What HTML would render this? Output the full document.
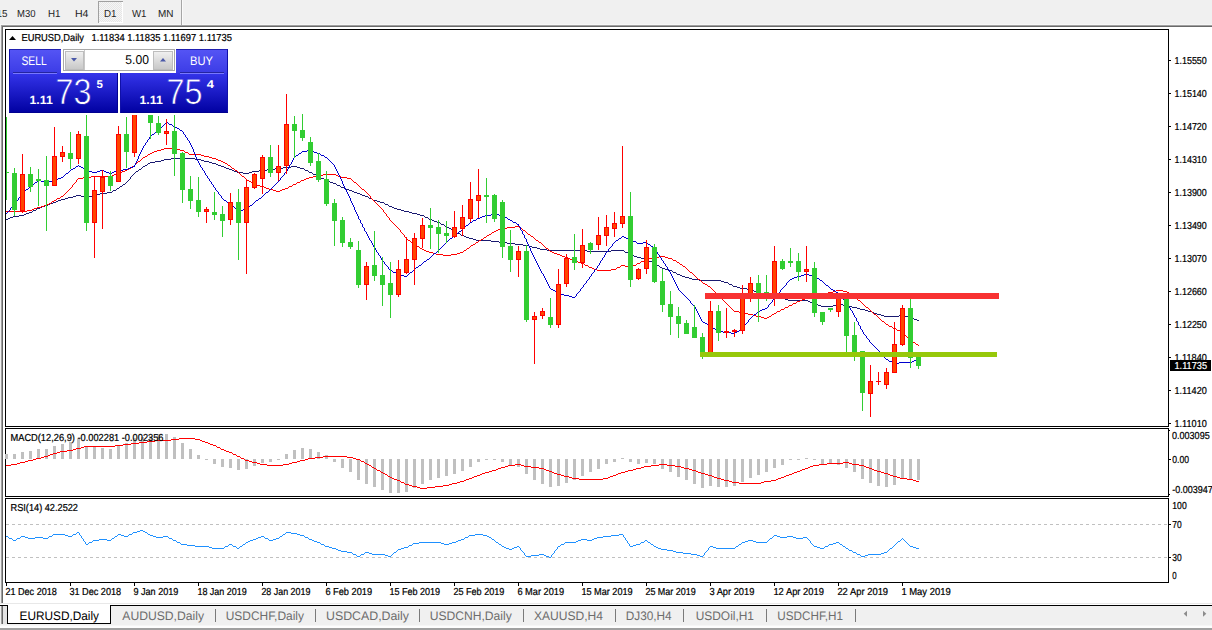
<!DOCTYPE html><html><head><meta charset="utf-8"><title>EURUSD,Daily</title>
<style>html,body{margin:0;padding:0;background:#f0f0f0;overflow:hidden}body{width:1212px;height:630px;position:relative}svg{display:block;position:absolute;left:0;top:0}text{font-family:"Liberation Sans",sans-serif;white-space:pre;text-rendering:geometricPrecision}</style></head><body>
<svg width="1212" height="630" viewBox="0 0 1212 630">
<defs>
<linearGradient id="gsell" x1="0" y1="0" x2="0" y2="1"><stop offset="0" stop-color="#5555f5"/><stop offset="1" stop-color="#3c3ce6"/></linearGradient>
<linearGradient id="gprice" gradientUnits="userSpaceOnUse" x1="0" y1="73" x2="0" y2="113"><stop offset="0" stop-color="#3434ea"/><stop offset="1" stop-color="#0000a0"/></linearGradient>
<linearGradient id="gbtn" x1="0" y1="0" x2="0" y2="1"><stop offset="0" stop-color="#f2f2f2"/><stop offset="0.5" stop-color="#dcdcdc"/><stop offset="1" stop-color="#c6c6c6"/></linearGradient>
<pattern id="chk" width="2" height="2" patternUnits="userSpaceOnUse"><rect width="2" height="2" fill="#f6f6f6"/><rect width="1" height="1" fill="#e6e6e6"/><rect x="1" y="1" width="1" height="1" fill="#e6e6e6"/></pattern>
<clipPath id="cpMain"><rect x="6" y="30" width="1162" height="396"/></clipPath>
</defs>
<rect x="0" y="0" width="1212" height="630" fill="#f0f0f0"/>
<rect x="0" y="24" width="1212" height="1" fill="#f6f6f6"/>
<rect x="98" y="1" width="25" height="22" fill="url(#chk)"/>
<rect x="98" y="1" width="25" height="1" fill="#a0a0a0"/>
<rect x="98" y="1" width="1" height="22" fill="#a0a0a0"/>
<rect x="99" y="22" width="24" height="1" fill="#ffffff"/>
<rect x="122" y="2" width="1" height="21" fill="#ffffff"/>
<rect x="181" y="0" width="1" height="25" fill="#a6a6a6"/>
<rect x="182" y="0" width="1" height="25" fill="#fafafa"/>
<text x="-3.5" y="17" font-size="10.2" fill="#1e1e1e" font-weight="normal" textLength="11" lengthAdjust="spacingAndGlyphs">15</text>
<text x="17" y="17" font-size="10.2" fill="#1e1e1e" font-weight="normal" textLength="18.5" lengthAdjust="spacingAndGlyphs">M30</text>
<text x="48" y="17" font-size="10.2" fill="#1e1e1e" font-weight="normal" textLength="12.5" lengthAdjust="spacingAndGlyphs">H1</text>
<text x="75" y="17" font-size="10.2" fill="#1e1e1e" font-weight="normal" textLength="13.5" lengthAdjust="spacingAndGlyphs">H4</text>
<text x="104" y="17" font-size="10.2" fill="#1e1e1e" font-weight="normal" textLength="12.5" lengthAdjust="spacingAndGlyphs">D1</text>
<text x="132" y="17" font-size="10.2" fill="#1e1e1e" font-weight="normal" textLength="14.5" lengthAdjust="spacingAndGlyphs">W1</text>
<text x="158" y="17" font-size="10.2" fill="#1e1e1e" font-weight="normal" textLength="15.5" lengthAdjust="spacingAndGlyphs">MN</text>
<rect x="1" y="25" width="1211" height="578" fill="#a0a0a0"/>
<rect x="2" y="26" width="1210" height="577" fill="#696969"/>
<rect x="3" y="27" width="1209" height="576" fill="#ffffff"/>
<rect x="0" y="603" width="1212" height="1" fill="#e8e8e8"/>
<rect x="5" y="29" width="1164" height="1" fill="#000"/>
<rect x="5" y="426" width="1164" height="1" fill="#000"/>
<rect x="5" y="29" width="1" height="398" fill="#000"/>
<rect x="1168" y="29" width="1" height="398" fill="#000"/>
<rect x="5" y="428" width="1164" height="1" fill="#000"/>
<rect x="5" y="496" width="1164" height="1" fill="#000"/>
<rect x="5" y="428" width="1" height="69" fill="#000"/>
<rect x="1168" y="428" width="1" height="69" fill="#000"/>
<rect x="5" y="498" width="1164" height="1" fill="#000"/>
<rect x="5" y="582" width="1164" height="1" fill="#000"/>
<rect x="5" y="498" width="1" height="85" fill="#000"/>
<rect x="1168" y="498" width="1" height="85" fill="#000"/>
<line x1="6" y1="524.5" x2="1168" y2="524.5" stroke="#c0c0c0" stroke-width="1" stroke-dasharray="3,3"/>
<line x1="6" y1="557.5" x2="1168" y2="557.5" stroke="#c0c0c0" stroke-width="1" stroke-dasharray="3,3"/>
<g clip-path="url(#cpMain)" shape-rendering="crispEdges">
<path fill="#191970" d="M171 158h24v1h-24zM164 159h7v1h-7zM195 159h6v1h-6zM161 160h3v1h-3zM201 160h3v1h-3zM155 161h6v1h-6zM204 161h5v1h-5zM150 162h5v1h-5zM209 162h3v1h-3zM148 163h2v1h-2zM212 163h4v1h-4zM147 164h1v1h-1zM216 164h2v1h-2zM145 165h2v1h-2zM218 165h3v1h-3zM143 166h2v1h-2zM221 166h3v1h-3zM291 166h6v1h-6zM142 167h1v1h-1zM224 167h2v1h-2zM283 167h8v1h-8zM297 167h3v1h-3zM141 168h1v1h-1zM226 168h3v1h-3zM275 168h8v1h-8zM300 168h4v1h-4zM139 169h2v1h-2zM229 169h3v1h-3zM267 169h8v1h-8zM304 169h1v1h-1zM138 170h1v1h-1zM232 170h2v1h-2zM259 170h8v1h-8zM305 170h3v1h-3zM136 171h2v1h-2zM234 171h3v1h-3zM252 171h7v1h-7zM308 171h1v1h-1zM135 172h1v1h-1zM237 172h6v1h-6zM249 172h3v1h-3zM309 172h3v1h-3zM134 173h1v1h-1zM243 173h6v1h-6zM312 173h1v1h-1zM133 174h1v1h-1zM313 174h3v1h-3zM132 175h1v1h-1zM316 175h1v1h-1zM131 176h1v1h-1zM317 176h3v1h-3zM130 177h1v1h-1zM320 177h1v1h-1zM130 178h1v1h-1zM321 178h3v1h-3zM129 179h1v1h-1zM324 179h1v1h-1zM128 180h1v1h-1zM325 180h3v1h-3zM127 181h1v1h-1zM328 181h2v1h-2zM126 182h1v1h-1zM330 182h3v1h-3zM125 183h1v1h-1zM333 183h3v1h-3zM123 184h2v1h-2zM336 184h1v1h-1zM122 185h1v1h-1zM337 185h3v1h-3zM120 186h2v1h-2zM340 186h1v1h-1zM119 187h1v1h-1zM341 187h3v1h-3zM117 188h2v1h-2zM344 188h2v1h-2zM116 189h1v1h-1zM346 189h3v1h-3zM113 190h3v1h-3zM349 190h3v1h-3zM112 191h1v1h-1zM352 191h2v1h-2zM107 192h5v1h-5zM354 192h3v1h-3zM100 193h7v1h-7zM357 193h3v1h-3zM97 194h3v1h-3zM360 194h2v1h-2zM76 195h5v1h-5zM92 195h5v1h-5zM362 195h3v1h-3zM73 196h3v1h-3zM81 196h3v1h-3zM89 196h3v1h-3zM365 196h3v1h-3zM68 197h5v1h-5zM84 197h5v1h-5zM368 197h1v1h-1zM65 198h3v1h-3zM369 198h3v1h-3zM61 199h4v1h-4zM372 199h1v1h-1zM58 200h3v1h-3zM373 200h4v1h-4zM56 201h2v1h-2zM377 201h3v1h-3zM53 202h3v1h-3zM380 202h4v1h-4zM50 203h3v1h-3zM384 203h1v1h-1zM48 204h2v1h-2zM385 204h3v1h-3zM45 205h3v1h-3zM388 205h1v1h-1zM42 206h3v1h-3zM389 206h3v1h-3zM40 207h2v1h-2zM392 207h2v1h-2zM37 208h3v1h-3zM394 208h3v1h-3zM36 209h1v1h-1zM397 209h4v1h-4zM33 210h3v1h-3zM401 210h3v1h-3zM32 211h1v1h-1zM404 211h5v1h-5zM29 212h3v1h-3zM409 212h3v1h-3zM26 213h3v1h-3zM412 213h5v1h-5zM24 214h2v1h-2zM417 214h3v1h-3zM19 215h5v1h-5zM420 215h4v1h-4zM13 216h6v1h-6zM424 216h1v1h-1zM10 217h3v1h-3zM425 217h3v1h-3zM8 218h2v1h-2zM428 218h1v1h-1zM6 219h2v1h-2zM429 219h3v1h-3zM432 220h2v1h-2zM434 221h3v1h-3zM437 222h3v1h-3zM440 223h1v1h-1zM441 224h3v1h-3zM444 225h1v1h-1zM445 226h2v1h-2zM447 227h2v1h-2zM449 228h2v1h-2zM451 229h1v1h-1zM452 230h2v1h-2zM454 231h2v1h-2zM456 232h1v1h-1zM457 233h3v1h-3zM460 234h1v1h-1zM461 235h3v1h-3zM464 236h2v1h-2zM466 237h3v1h-3zM469 238h4v1h-4zM473 239h3v1h-3zM476 240h15v1h-15zM491 241h8v1h-8zM499 242h8v1h-8zM507 243h8v1h-8zM515 244h8v1h-8zM523 245h6v1h-6zM529 246h3v1h-3zM532 247h5v1h-5zM537 248h3v1h-3zM540 249h7v1h-7zM547 250h40v1h-40zM611 250h13v1h-13zM587 251h24v1h-24zM624 251h1v1h-1zM625 252h3v1h-3zM628 253h1v1h-1zM629 254h3v1h-3zM632 255h2v1h-2zM634 256h3v1h-3zM637 257h4v1h-4zM641 258h3v1h-3zM644 259h4v1h-4zM648 260h1v1h-1zM649 261h3v1h-3zM652 262h1v1h-1zM653 263h2v1h-2zM655 264h2v1h-2zM657 265h2v1h-2zM659 266h1v1h-1zM660 267h2v1h-2zM662 268h3v1h-3zM665 269h3v1h-3zM668 270h4v1h-4zM672 271h1v1h-1zM673 272h3v1h-3zM676 273h1v1h-1zM677 274h3v1h-3zM680 275h2v1h-2zM682 276h3v1h-3zM685 277h4v1h-4zM689 278h3v1h-3zM692 279h7v1h-7zM699 280h22v1h-22zM721 281h3v1h-3zM724 282h4v1h-4zM728 283h1v1h-1zM729 284h3v1h-3zM732 285h1v1h-1zM733 286h4v1h-4zM737 287h3v1h-3zM740 288h7v1h-7zM747 289h5v1h-5zM752 290h2v1h-2zM754 291h3v1h-3zM757 292h4v1h-4zM761 293h3v1h-3zM764 294h5v1h-5zM769 295h3v1h-3zM772 296h5v1h-5zM777 297h3v1h-3zM780 298h5v1h-5zM785 299h3v1h-3zM788 300h20v1h-20zM808 301h2v1h-2zM810 302h3v1h-3zM813 303h3v1h-3zM816 304h2v1h-2zM836 304h7v1h-7zM818 305h3v1h-3zM833 305h3v1h-3zM843 305h6v1h-6zM821 306h12v1h-12zM849 306h3v1h-3zM852 307h5v1h-5zM857 308h3v1h-3zM860 309h5v1h-5zM865 310h3v1h-3zM868 311h4v1h-4zM872 312h2v1h-2zM874 313h3v1h-3zM877 314h4v1h-4zM881 315h3v1h-3zM899 315h6v1h-6zM884 316h15v1h-15zM905 316h3v1h-3zM908 317h4v1h-4zM912 318h2v1h-2zM914 319h3v1h-3zM917 320h2v1h-2z"/>
<path fill="#ff0000" d="M164 148h13v1h-13zM161 149h3v1h-3zM177 149h3v1h-3zM157 150h4v1h-4zM180 150h4v1h-4zM154 151h3v1h-3zM184 151h1v1h-1zM152 152h2v1h-2zM185 152h3v1h-3zM150 153h2v1h-2zM188 153h1v1h-1zM148 154h2v1h-2zM189 154h12v1h-12zM147 155h1v1h-1zM201 155h3v1h-3zM145 156h2v1h-2zM204 156h5v1h-5zM143 157h2v1h-2zM209 157h3v1h-3zM142 158h1v1h-1zM212 158h4v1h-4zM141 159h1v1h-1zM216 159h2v1h-2zM140 160h1v1h-1zM218 160h3v1h-3zM138 161h2v1h-2zM221 161h2v1h-2zM137 162h1v1h-1zM223 162h2v1h-2zM136 163h1v1h-1zM225 163h2v1h-2zM135 164h1v1h-1zM227 164h1v1h-1zM134 165h1v1h-1zM228 165h2v1h-2zM132 166h2v1h-2zM230 166h1v1h-1zM131 167h1v1h-1zM231 167h1v1h-1zM129 168h2v1h-2zM232 168h2v1h-2zM127 169h2v1h-2zM234 169h1v1h-1zM125 170h2v1h-2zM235 170h2v1h-2zM122 171h3v1h-3zM237 171h1v1h-1zM120 172h2v1h-2zM238 172h1v1h-1zM117 173h3v1h-3zM239 173h1v1h-1zM114 174h3v1h-3zM240 174h1v1h-1zM323 174h13v1h-13zM112 175h2v1h-2zM241 175h1v1h-1zM316 175h7v1h-7zM336 175h2v1h-2zM91 176h21v1h-21zM242 176h2v1h-2zM313 176h3v1h-3zM338 176h3v1h-3zM83 177h8v1h-8zM244 177h1v1h-1zM309 177h4v1h-4zM341 177h6v1h-6zM78 178h5v1h-5zM245 178h1v1h-1zM306 178h3v1h-3zM347 178h4v1h-4zM77 179h1v1h-1zM246 179h1v1h-1zM304 179h2v1h-2zM351 179h1v1h-1zM76 180h1v1h-1zM247 180h2v1h-2zM301 180h3v1h-3zM352 180h1v1h-1zM76 181h1v1h-1zM249 181h2v1h-2zM300 181h1v1h-1zM353 181h1v1h-1zM75 182h1v1h-1zM251 182h1v1h-1zM297 182h3v1h-3zM354 182h2v1h-2zM74 183h1v1h-1zM252 183h2v1h-2zM296 183h1v1h-1zM356 183h1v1h-1zM73 184h1v1h-1zM254 184h3v1h-3zM293 184h3v1h-3zM357 184h1v1h-1zM72 185h1v1h-1zM257 185h3v1h-3zM292 185h1v1h-1zM358 185h1v1h-1zM72 186h1v1h-1zM260 186h4v1h-4zM289 186h3v1h-3zM359 186h1v1h-1zM71 187h1v1h-1zM264 187h2v1h-2zM288 187h1v1h-1zM360 187h1v1h-1zM70 188h1v1h-1zM266 188h3v1h-3zM285 188h3v1h-3zM361 188h1v1h-1zM69 189h1v1h-1zM269 189h4v1h-4zM282 189h3v1h-3zM362 189h2v1h-2zM68 190h1v1h-1zM273 190h3v1h-3zM280 190h2v1h-2zM364 190h1v1h-1zM67 191h1v1h-1zM276 191h4v1h-4zM365 191h1v1h-1zM66 192h1v1h-1zM366 192h1v1h-1zM65 193h1v1h-1zM367 193h1v1h-1zM64 194h1v1h-1zM368 194h1v1h-1zM63 195h1v1h-1zM369 195h1v1h-1zM61 196h2v1h-2zM370 196h1v1h-1zM60 197h1v1h-1zM370 197h1v1h-1zM57 198h3v1h-3zM371 198h1v1h-1zM56 199h1v1h-1zM372 199h1v1h-1zM54 200h2v1h-2zM373 200h1v1h-1zM52 201h2v1h-2zM374 201h1v1h-1zM51 202h1v1h-1zM375 202h1v1h-1zM49 203h2v1h-2zM376 203h1v1h-1zM47 204h2v1h-2zM377 204h1v1h-1zM44 205h3v1h-3zM378 205h1v1h-1zM41 206h3v1h-3zM379 206h1v1h-1zM37 207h4v1h-4zM380 207h1v1h-1zM34 208h3v1h-3zM381 208h1v1h-1zM32 209h2v1h-2zM382 209h1v1h-1zM27 210h5v1h-5zM383 210h1v1h-1zM6 211h21v1h-21zM383 211h1v1h-1zM384 212h1v1h-1zM385 213h1v1h-1zM386 214h1v1h-1zM386 215h1v1h-1zM387 216h1v1h-1zM388 217h1v1h-1zM389 218h1v1h-1zM389 219h1v1h-1zM390 220h1v1h-1zM391 221h1v1h-1zM392 222h1v1h-1zM393 223h1v1h-1zM394 224h1v1h-1zM395 225h1v1h-1zM396 226h1v1h-1zM515 226h4v1h-4zM397 227h1v1h-1zM507 227h8v1h-8zM519 227h1v1h-1zM398 228h1v1h-1zM501 228h6v1h-6zM520 228h2v1h-2zM399 229h1v1h-1zM498 229h3v1h-3zM522 229h1v1h-1zM400 230h1v1h-1zM496 230h2v1h-2zM523 230h2v1h-2zM400 231h1v1h-1zM494 231h2v1h-2zM525 231h1v1h-1zM401 232h1v1h-1zM492 232h2v1h-2zM526 232h1v1h-1zM402 233h1v1h-1zM491 233h1v1h-1zM527 233h1v1h-1zM403 234h1v1h-1zM489 234h2v1h-2zM528 234h2v1h-2zM404 235h1v1h-1zM487 235h2v1h-2zM530 235h1v1h-1zM404 236h1v1h-1zM486 236h1v1h-1zM531 236h2v1h-2zM405 237h1v1h-1zM484 237h2v1h-2zM533 237h1v1h-1zM406 238h1v1h-1zM483 238h1v1h-1zM534 238h1v1h-1zM407 239h1v1h-1zM481 239h2v1h-2zM535 239h1v1h-1zM408 240h2v1h-2zM479 240h2v1h-2zM536 240h2v1h-2zM410 241h1v1h-1zM478 241h1v1h-1zM538 241h1v1h-1zM411 242h2v1h-2zM476 242h2v1h-2zM539 242h2v1h-2zM413 243h1v1h-1zM475 243h1v1h-1zM541 243h1v1h-1zM414 244h1v1h-1zM473 244h2v1h-2zM542 244h1v1h-1zM415 245h2v1h-2zM471 245h2v1h-2zM543 245h1v1h-1zM417 246h2v1h-2zM470 246h1v1h-1zM544 246h1v1h-1zM419 247h1v1h-1zM469 247h1v1h-1zM545 247h1v1h-1zM420 248h2v1h-2zM467 248h2v1h-2zM546 248h2v1h-2zM422 249h2v1h-2zM466 249h1v1h-1zM548 249h1v1h-1zM424 250h2v1h-2zM464 250h2v1h-2zM549 250h1v1h-1zM426 251h3v1h-3zM463 251h1v1h-1zM550 251h2v1h-2zM429 252h4v1h-4zM460 252h3v1h-3zM552 252h2v1h-2zM433 253h3v1h-3zM457 253h3v1h-3zM554 253h3v1h-3zM436 254h7v1h-7zM451 254h6v1h-6zM557 254h3v1h-3zM443 255h8v1h-8zM560 255h2v1h-2zM562 256h3v1h-3zM659 256h6v1h-6zM565 257h3v1h-3zM652 257h7v1h-7zM665 257h3v1h-3zM568 258h2v1h-2zM649 258h3v1h-3zM668 258h4v1h-4zM570 259h3v1h-3zM645 259h4v1h-4zM672 259h1v1h-1zM573 260h3v1h-3zM644 260h1v1h-1zM673 260h3v1h-3zM576 261h2v1h-2zM641 261h3v1h-3zM676 261h1v1h-1zM578 262h3v1h-3zM640 262h1v1h-1zM677 262h2v1h-2zM581 263h3v1h-3zM637 263h3v1h-3zM679 263h1v1h-1zM584 264h1v1h-1zM636 264h1v1h-1zM680 264h2v1h-2zM585 265h3v1h-3zM621 265h4v1h-4zM633 265h3v1h-3zM682 265h1v1h-1zM588 266h1v1h-1zM620 266h1v1h-1zM625 266h3v1h-3zM632 266h1v1h-1zM683 266h2v1h-2zM589 267h3v1h-3zM617 267h3v1h-3zM628 267h4v1h-4zM685 267h1v1h-1zM592 268h2v1h-2zM616 268h1v1h-1zM686 268h1v1h-1zM594 269h3v1h-3zM611 269h5v1h-5zM687 269h1v1h-1zM597 270h14v1h-14zM688 270h1v1h-1zM689 271h1v1h-1zM690 272h2v1h-2zM692 273h1v1h-1zM693 274h1v1h-1zM694 275h1v1h-1zM695 276h1v1h-1zM696 277h1v1h-1zM697 278h1v1h-1zM698 279h2v1h-2zM700 280h1v1h-1zM701 281h1v1h-1zM702 282h1v1h-1zM703 283h2v1h-2zM705 284h2v1h-2zM707 285h1v1h-1zM708 286h2v1h-2zM710 287h1v1h-1zM711 288h1v1h-1zM712 289h1v1h-1zM713 290h1v1h-1zM836 290h7v1h-7zM714 291h1v1h-1zM833 291h3v1h-3zM843 291h4v1h-4zM715 292h1v1h-1zM828 292h5v1h-5zM847 292h2v1h-2zM716 293h1v1h-1zM825 293h3v1h-3zM849 293h2v1h-2zM717 294h1v1h-1zM820 294h5v1h-5zM851 294h1v1h-1zM718 295h1v1h-1zM817 295h3v1h-3zM852 295h2v1h-2zM719 296h1v1h-1zM812 296h5v1h-5zM854 296h1v1h-1zM720 297h1v1h-1zM809 297h3v1h-3zM855 297h1v1h-1zM721 298h1v1h-1zM805 298h4v1h-4zM856 298h1v1h-1zM722 299h1v1h-1zM802 299h3v1h-3zM857 299h1v1h-1zM723 300h1v1h-1zM800 300h2v1h-2zM858 300h2v1h-2zM724 301h1v1h-1zM797 301h3v1h-3zM860 301h1v1h-1zM725 302h1v1h-1zM796 302h1v1h-1zM861 302h1v1h-1zM726 303h1v1h-1zM793 303h3v1h-3zM862 303h1v1h-1zM727 304h1v1h-1zM792 304h1v1h-1zM863 304h1v1h-1zM728 305h1v1h-1zM789 305h3v1h-3zM864 305h1v1h-1zM729 306h1v1h-1zM788 306h1v1h-1zM865 306h1v1h-1zM730 307h1v1h-1zM785 307h3v1h-3zM866 307h2v1h-2zM731 308h1v1h-1zM784 308h1v1h-1zM868 308h1v1h-1zM732 309h1v1h-1zM781 309h3v1h-3zM869 309h1v1h-1zM733 310h1v1h-1zM780 310h1v1h-1zM870 310h1v1h-1zM734 311h5v1h-5zM777 311h3v1h-3zM871 311h1v1h-1zM739 312h6v1h-6zM776 312h1v1h-1zM872 312h1v1h-1zM745 313h3v1h-3zM774 313h2v1h-2zM873 313h1v1h-1zM748 314h5v1h-5zM772 314h2v1h-2zM874 314h2v1h-2zM753 315h3v1h-3zM771 315h1v1h-1zM876 315h1v1h-1zM756 316h5v1h-5zM769 316h2v1h-2zM877 316h1v1h-1zM761 317h3v1h-3zM767 317h2v1h-2zM878 317h1v1h-1zM764 318h3v1h-3zM879 318h1v1h-1zM880 319h1v1h-1zM881 320h1v1h-1zM882 321h2v1h-2zM884 322h1v1h-1zM885 323h1v1h-1zM886 324h2v1h-2zM888 325h1v1h-1zM889 326h3v1h-3zM892 327h1v1h-1zM893 328h3v1h-3zM896 329h1v1h-1zM897 330h3v1h-3zM900 331h1v1h-1zM901 332h2v1h-2zM903 333h1v1h-1zM904 334h1v1h-1zM905 335h1v1h-1zM906 336h1v1h-1zM907 337h1v1h-1zM908 338h1v1h-1zM909 339h1v1h-1zM910 340h1v1h-1zM911 341h2v1h-2zM913 342h2v1h-2zM915 343h1v1h-1zM916 344h2v1h-2zM918 345h1v1h-1z"/>
<path fill="#0000cd" d="M166 122h2v1h-2zM165 123h1v1h-1zM168 123h1v1h-1zM164 124h1v1h-1zM169 124h3v1h-3zM163 125h1v1h-1zM172 125h1v1h-1zM162 126h1v1h-1zM173 126h2v1h-2zM161 127h1v1h-1zM175 127h2v1h-2zM160 128h1v1h-1zM177 128h2v1h-2zM159 129h1v1h-1zM179 129h1v1h-1zM158 130h1v1h-1zM180 130h2v1h-2zM157 131h1v1h-1zM182 131h1v1h-1zM155 132h2v1h-2zM183 132h1v1h-1zM154 133h1v1h-1zM183 133h1v1h-1zM152 134h2v1h-2zM184 134h1v1h-1zM151 135h1v1h-1zM185 135h1v1h-1zM150 136h1v1h-1zM185 136h1v1h-1zM149 137h1v1h-1zM186 137h1v1h-1zM149 138h1v1h-1zM187 138h1v1h-1zM148 139h1v1h-1zM187 139h1v1h-1zM147 140h1v1h-1zM188 140h1v1h-1zM147 141h1v1h-1zM189 141h1v1h-1zM146 142h1v1h-1zM189 142h1v1h-1zM145 143h1v1h-1zM190 143h1v1h-1zM145 144h1v1h-1zM190 144h1v1h-1zM144 145h1v1h-1zM191 145h1v1h-1zM143 146h1v1h-1zM191 146h1v1h-1zM143 147h1v1h-1zM192 147h1v1h-1zM142 148h1v1h-1zM192 148h1v1h-1zM142 149h1v1h-1zM193 149h1v1h-1zM141 150h1v1h-1zM193 150h1v1h-1zM307 150h5v1h-5zM141 151h1v1h-1zM193 151h1v1h-1zM302 151h5v1h-5zM312 151h2v1h-2zM140 152h1v1h-1zM194 152h1v1h-1zM301 152h1v1h-1zM314 152h3v1h-3zM140 153h1v1h-1zM194 153h1v1h-1zM299 153h2v1h-2zM317 153h3v1h-3zM139 154h1v1h-1zM195 154h1v1h-1zM298 154h1v1h-1zM320 154h1v1h-1zM139 155h1v1h-1zM195 155h1v1h-1zM296 155h2v1h-2zM321 155h3v1h-3zM138 156h1v1h-1zM195 156h1v1h-1zM295 156h1v1h-1zM324 156h1v1h-1zM138 157h1v1h-1zM196 157h1v1h-1zM294 157h1v1h-1zM325 157h2v1h-2zM138 158h1v1h-1zM196 158h1v1h-1zM293 158h1v1h-1zM327 158h1v1h-1zM137 159h1v1h-1zM197 159h1v1h-1zM293 159h1v1h-1zM328 159h1v1h-1zM137 160h1v1h-1zM197 160h1v1h-1zM292 160h1v1h-1zM329 160h1v1h-1zM136 161h1v1h-1zM198 161h1v1h-1zM292 161h1v1h-1zM330 161h1v1h-1zM136 162h1v1h-1zM198 162h1v1h-1zM291 162h1v1h-1zM331 162h1v1h-1zM135 163h1v1h-1zM199 163h1v1h-1zM291 163h1v1h-1zM332 163h1v1h-1zM135 164h1v1h-1zM199 164h1v1h-1zM290 164h1v1h-1zM333 164h1v1h-1zM78 165h1v1h-1zM134 165h1v1h-1zM200 165h1v1h-1zM289 165h1v1h-1zM334 165h1v1h-1zM76 166h2v1h-2zM79 166h2v1h-2zM133 166h2v1h-2zM200 166h1v1h-1zM289 166h1v1h-1zM334 166h1v1h-1zM75 167h1v1h-1zM81 167h2v1h-2zM130 167h3v1h-3zM201 167h1v1h-1zM288 167h1v1h-1zM335 167h1v1h-1zM73 168h2v1h-2zM83 168h1v1h-1zM128 168h2v1h-2zM202 168h1v1h-1zM288 168h1v1h-1zM335 168h1v1h-1zM71 169h2v1h-2zM84 169h2v1h-2zM123 169h5v1h-5zM202 169h1v1h-1zM287 169h1v1h-1zM336 169h1v1h-1zM70 170h1v1h-1zM86 170h3v1h-3zM100 170h4v1h-4zM117 170h6v1h-6zM203 170h1v1h-1zM287 170h1v1h-1zM336 170h1v1h-1zM69 171h1v1h-1zM89 171h3v1h-3zM97 171h3v1h-3zM104 171h2v1h-2zM114 171h3v1h-3zM204 171h1v1h-1zM286 171h1v1h-1zM337 171h1v1h-1zM68 172h1v1h-1zM92 172h5v1h-5zM106 172h3v1h-3zM112 172h2v1h-2zM204 172h1v1h-1zM285 172h1v1h-1zM337 172h1v1h-1zM66 173h2v1h-2zM109 173h3v1h-3zM205 173h1v1h-1zM284 173h1v1h-1zM338 173h1v1h-1zM65 174h1v1h-1zM205 174h1v1h-1zM284 174h1v1h-1zM338 174h1v1h-1zM64 175h1v1h-1zM206 175h1v1h-1zM283 175h1v1h-1zM339 175h1v1h-1zM63 176h1v1h-1zM207 176h1v1h-1zM282 176h1v1h-1zM339 176h1v1h-1zM61 177h2v1h-2zM207 177h1v1h-1zM281 177h1v1h-1zM340 177h1v1h-1zM58 178h3v1h-3zM208 178h1v1h-1zM280 178h1v1h-1zM340 178h1v1h-1zM56 179h2v1h-2zM209 179h1v1h-1zM280 179h1v1h-1zM341 179h1v1h-1zM38 180h3v1h-3zM52 180h4v1h-4zM209 180h1v1h-1zM279 180h1v1h-1zM341 180h1v1h-1zM37 181h1v1h-1zM41 181h3v1h-3zM49 181h3v1h-3zM210 181h1v1h-1zM278 181h1v1h-1zM342 181h1v1h-1zM35 182h2v1h-2zM44 182h5v1h-5zM211 182h1v1h-1zM277 182h1v1h-1zM342 182h1v1h-1zM34 183h1v1h-1zM211 183h1v1h-1zM276 183h1v1h-1zM342 183h1v1h-1zM32 184h2v1h-2zM212 184h1v1h-1zM275 184h1v1h-1zM343 184h1v1h-1zM31 185h1v1h-1zM213 185h1v1h-1zM274 185h1v1h-1zM343 185h1v1h-1zM30 186h1v1h-1zM213 186h1v1h-1zM273 186h1v1h-1zM344 186h1v1h-1zM29 187h1v1h-1zM214 187h1v1h-1zM272 187h1v1h-1zM344 187h1v1h-1zM28 188h1v1h-1zM215 188h1v1h-1zM271 188h1v1h-1zM345 188h1v1h-1zM26 189h2v1h-2zM215 189h1v1h-1zM270 189h1v1h-1zM345 189h1v1h-1zM25 190h1v1h-1zM216 190h1v1h-1zM269 190h1v1h-1zM346 190h1v1h-1zM24 191h1v1h-1zM217 191h1v1h-1zM268 191h1v1h-1zM346 191h1v1h-1zM23 192h1v1h-1zM218 192h1v1h-1zM266 192h2v1h-2zM347 192h1v1h-1zM22 193h1v1h-1zM218 193h1v1h-1zM265 193h1v1h-1zM347 193h1v1h-1zM21 194h1v1h-1zM219 194h1v1h-1zM264 194h1v1h-1zM348 194h1v1h-1zM21 195h1v1h-1zM220 195h1v1h-1zM263 195h1v1h-1zM348 195h1v1h-1zM20 196h1v1h-1zM221 196h1v1h-1zM262 196h1v1h-1zM349 196h1v1h-1zM19 197h1v1h-1zM221 197h1v1h-1zM261 197h1v1h-1zM349 197h1v1h-1zM18 198h1v1h-1zM222 198h1v1h-1zM259 198h2v1h-2zM350 198h1v1h-1zM18 199h1v1h-1zM223 199h1v1h-1zM258 199h1v1h-1zM350 199h1v1h-1zM17 200h1v1h-1zM224 200h2v1h-2zM256 200h2v1h-2zM350 200h1v1h-1zM16 201h1v1h-1zM226 201h1v1h-1zM255 201h1v1h-1zM351 201h1v1h-1zM15 202h1v1h-1zM227 202h2v1h-2zM254 202h1v1h-1zM351 202h1v1h-1zM15 203h1v1h-1zM229 203h1v1h-1zM253 203h1v1h-1zM352 203h1v1h-1zM14 204h1v1h-1zM230 204h1v1h-1zM252 204h1v1h-1zM352 204h1v1h-1zM13 205h1v1h-1zM231 205h1v1h-1zM250 205h2v1h-2zM353 205h1v1h-1zM12 206h1v1h-1zM232 206h2v1h-2zM249 206h1v1h-1zM353 206h1v1h-1zM11 207h1v1h-1zM234 207h1v1h-1zM248 207h1v1h-1zM354 207h1v1h-1zM10 208h1v1h-1zM235 208h2v1h-2zM247 208h1v1h-1zM354 208h1v1h-1zM10 209h1v1h-1zM237 209h1v1h-1zM243 209h4v1h-4zM354 209h1v1h-1zM9 210h1v1h-1zM238 210h5v1h-5zM355 210h1v1h-1zM8 211h1v1h-1zM355 211h1v1h-1zM7 212h1v1h-1zM356 212h1v1h-1zM6 213h1v1h-1zM356 213h1v1h-1zM357 214h1v1h-1zM491 214h8v1h-8zM357 215h1v1h-1zM485 215h6v1h-6zM499 215h4v1h-4zM358 216h1v1h-1zM482 216h3v1h-3zM503 216h2v1h-2zM358 217h1v1h-1zM480 217h2v1h-2zM505 217h2v1h-2zM358 218h1v1h-1zM477 218h3v1h-3zM507 218h1v1h-1zM359 219h1v1h-1zM476 219h1v1h-1zM508 219h2v1h-2zM360 220h1v1h-1zM473 220h3v1h-3zM510 220h2v1h-2zM360 221h1v1h-1zM472 221h1v1h-1zM512 221h1v1h-1zM360 222h1v1h-1zM470 222h2v1h-2zM513 222h3v1h-3zM361 223h1v1h-1zM469 223h1v1h-1zM516 223h1v1h-1zM362 224h1v1h-1zM468 224h1v1h-1zM517 224h2v1h-2zM362 225h1v1h-1zM466 225h2v1h-2zM518 225h1v1h-1zM362 226h1v1h-1zM465 226h1v1h-1zM519 226h1v1h-1zM363 227h1v1h-1zM464 227h1v1h-1zM520 227h1v1h-1zM364 228h1v1h-1zM463 228h1v1h-1zM520 228h1v1h-1zM364 229h1v1h-1zM462 229h1v1h-1zM520 229h1v1h-1zM364 230h1v1h-1zM461 230h1v1h-1zM521 230h1v1h-1zM365 231h1v1h-1zM459 231h2v1h-2zM522 231h1v1h-1zM366 232h1v1h-1zM458 232h1v1h-1zM522 232h1v1h-1zM366 233h1v1h-1zM456 233h2v1h-2zM522 233h1v1h-1zM367 234h1v1h-1zM455 234h1v1h-1zM523 234h1v1h-1zM367 235h1v1h-1zM454 235h1v1h-1zM524 235h1v1h-1zM368 236h1v1h-1zM453 236h1v1h-1zM524 236h1v1h-1zM622 236h2v1h-2zM368 237h1v1h-1zM452 237h1v1h-1zM524 237h1v1h-1zM621 237h1v1h-1zM624 237h2v1h-2zM369 238h1v1h-1zM450 238h2v1h-2zM525 238h1v1h-1zM619 238h2v1h-2zM626 238h3v1h-3zM369 239h1v1h-1zM449 239h1v1h-1zM526 239h1v1h-1zM618 239h1v1h-1zM629 239h3v1h-3zM370 240h1v1h-1zM448 240h1v1h-1zM526 240h1v1h-1zM616 240h2v1h-2zM632 240h1v1h-1zM371 241h1v1h-1zM447 241h1v1h-1zM526 241h1v1h-1zM615 241h1v1h-1zM633 241h3v1h-3zM371 242h1v1h-1zM446 242h1v1h-1zM527 242h1v1h-1zM614 242h1v1h-1zM636 242h1v1h-1zM643 242h4v1h-4zM372 243h1v1h-1zM445 243h1v1h-1zM527 243h1v1h-1zM613 243h1v1h-1zM637 243h6v1h-6zM647 243h1v1h-1zM372 244h1v1h-1zM444 244h1v1h-1zM528 244h1v1h-1zM612 244h1v1h-1zM648 244h2v1h-2zM373 245h1v1h-1zM443 245h1v1h-1zM528 245h1v1h-1zM612 245h1v1h-1zM650 245h1v1h-1zM373 246h1v1h-1zM442 246h1v1h-1zM529 246h1v1h-1zM611 246h1v1h-1zM651 246h2v1h-2zM374 247h1v1h-1zM441 247h1v1h-1zM529 247h1v1h-1zM610 247h1v1h-1zM653 247h1v1h-1zM375 248h1v1h-1zM440 248h1v1h-1zM530 248h1v1h-1zM609 248h1v1h-1zM654 248h1v1h-1zM375 249h1v1h-1zM439 249h1v1h-1zM530 249h1v1h-1zM608 249h1v1h-1zM655 249h1v1h-1zM376 250h1v1h-1zM438 250h1v1h-1zM530 250h1v1h-1zM608 250h1v1h-1zM655 250h1v1h-1zM376 251h1v1h-1zM437 251h1v1h-1zM531 251h1v1h-1zM607 251h1v1h-1zM656 251h1v1h-1zM377 252h1v1h-1zM436 252h1v1h-1zM531 252h1v1h-1zM606 252h1v1h-1zM657 252h1v1h-1zM378 253h1v1h-1zM434 253h2v1h-2zM532 253h1v1h-1zM605 253h1v1h-1zM657 253h1v1h-1zM378 254h1v1h-1zM433 254h1v1h-1zM532 254h1v1h-1zM605 254h1v1h-1zM658 254h1v1h-1zM379 255h1v1h-1zM432 255h1v1h-1zM533 255h1v1h-1zM604 255h1v1h-1zM659 255h1v1h-1zM380 256h1v1h-1zM431 256h1v1h-1zM533 256h1v1h-1zM604 256h1v1h-1zM659 256h1v1h-1zM380 257h1v1h-1zM430 257h1v1h-1zM534 257h1v1h-1zM603 257h1v1h-1zM660 257h1v1h-1zM381 258h1v1h-1zM429 258h1v1h-1zM534 258h1v1h-1zM602 258h1v1h-1zM661 258h1v1h-1zM381 259h1v1h-1zM427 259h2v1h-2zM535 259h1v1h-1zM602 259h1v1h-1zM661 259h1v1h-1zM382 260h1v1h-1zM426 260h1v1h-1zM535 260h1v1h-1zM601 260h1v1h-1zM662 260h1v1h-1zM383 261h1v1h-1zM424 261h2v1h-2zM536 261h1v1h-1zM600 261h1v1h-1zM663 261h1v1h-1zM384 262h1v1h-1zM423 262h1v1h-1zM536 262h1v1h-1zM600 262h1v1h-1zM663 262h1v1h-1zM384 263h1v1h-1zM422 263h1v1h-1zM537 263h1v1h-1zM599 263h1v1h-1zM664 263h1v1h-1zM385 264h1v1h-1zM421 264h1v1h-1zM537 264h1v1h-1zM599 264h1v1h-1zM665 264h1v1h-1zM386 265h1v1h-1zM419 265h2v1h-2zM538 265h1v1h-1zM598 265h1v1h-1zM665 265h1v1h-1zM387 266h1v1h-1zM418 266h1v1h-1zM538 266h1v1h-1zM597 266h1v1h-1zM666 266h1v1h-1zM388 267h1v1h-1zM416 267h2v1h-2zM539 267h1v1h-1zM597 267h1v1h-1zM667 267h1v1h-1zM388 268h1v1h-1zM415 268h1v1h-1zM539 268h1v1h-1zM596 268h1v1h-1zM667 268h1v1h-1zM389 269h1v1h-1zM414 269h1v1h-1zM540 269h1v1h-1zM595 269h1v1h-1zM668 269h1v1h-1zM390 270h2v1h-2zM413 270h1v1h-1zM540 270h1v1h-1zM594 270h1v1h-1zM669 270h1v1h-1zM392 271h1v1h-1zM412 271h1v1h-1zM541 271h1v1h-1zM594 271h1v1h-1zM669 271h1v1h-1zM393 272h3v1h-3zM410 272h2v1h-2zM541 272h1v1h-1zM593 272h1v1h-1zM670 272h1v1h-1zM396 273h1v1h-1zM409 273h1v1h-1zM542 273h1v1h-1zM592 273h1v1h-1zM670 273h1v1h-1zM397 274h4v1h-4zM408 274h1v1h-1zM543 274h1v1h-1zM591 274h1v1h-1zM671 274h1v1h-1zM804 274h5v1h-5zM401 275h3v1h-3zM407 275h1v1h-1zM543 275h1v1h-1zM591 275h1v1h-1zM671 275h1v1h-1zM801 275h3v1h-3zM809 275h3v1h-3zM404 276h3v1h-3zM544 276h1v1h-1zM590 276h1v1h-1zM672 276h1v1h-1zM797 276h4v1h-4zM812 276h3v1h-3zM544 277h1v1h-1zM589 277h1v1h-1zM672 277h1v1h-1zM794 277h3v1h-3zM815 277h2v1h-2zM545 278h1v1h-1zM589 278h1v1h-1zM673 278h1v1h-1zM792 278h2v1h-2zM817 278h2v1h-2zM545 279h1v1h-1zM588 279h1v1h-1zM673 279h1v1h-1zM790 279h2v1h-2zM819 279h1v1h-1zM546 280h1v1h-1zM587 280h1v1h-1zM674 280h1v1h-1zM789 280h1v1h-1zM820 280h2v1h-2zM546 281h1v1h-1zM586 281h1v1h-1zM674 281h1v1h-1zM788 281h1v1h-1zM822 281h1v1h-1zM547 282h1v1h-1zM586 282h1v1h-1zM675 282h1v1h-1zM787 282h1v1h-1zM823 282h1v1h-1zM547 283h1v1h-1zM585 283h1v1h-1zM675 283h1v1h-1zM786 283h1v1h-1zM824 283h1v1h-1zM548 284h1v1h-1zM584 284h1v1h-1zM676 284h1v1h-1zM786 284h1v1h-1zM825 284h1v1h-1zM548 285h1v1h-1zM583 285h1v1h-1zM676 285h1v1h-1zM785 285h1v1h-1zM826 285h2v1h-2zM549 286h1v1h-1zM583 286h1v1h-1zM677 286h1v1h-1zM784 286h1v1h-1zM828 286h1v1h-1zM549 287h1v1h-1zM582 287h1v1h-1zM677 287h1v1h-1zM783 287h1v1h-1zM829 287h1v1h-1zM550 288h1v1h-1zM581 288h1v1h-1zM678 288h1v1h-1zM782 288h1v1h-1zM830 288h1v1h-1zM551 289h2v1h-2zM580 289h1v1h-1zM678 289h1v1h-1zM781 289h1v1h-1zM831 289h2v1h-2zM553 290h2v1h-2zM580 290h1v1h-1zM679 290h1v1h-1zM780 290h1v1h-1zM833 290h2v1h-2zM555 291h1v1h-1zM579 291h1v1h-1zM680 291h1v1h-1zM780 291h1v1h-1zM835 291h1v1h-1zM556 292h2v1h-2zM578 292h1v1h-1zM681 292h1v1h-1zM779 292h1v1h-1zM836 292h2v1h-2zM558 293h3v1h-3zM577 293h1v1h-1zM682 293h1v1h-1zM778 293h1v1h-1zM838 293h1v1h-1zM561 294h3v1h-3zM576 294h1v1h-1zM683 294h1v1h-1zM777 294h1v1h-1zM839 294h1v1h-1zM564 295h5v1h-5zM576 295h1v1h-1zM684 295h1v1h-1zM776 295h1v1h-1zM840 295h1v1h-1zM569 296h3v1h-3zM575 296h1v1h-1zM685 296h1v1h-1zM776 296h1v1h-1zM841 296h1v1h-1zM572 297h3v1h-3zM686 297h1v1h-1zM775 297h1v1h-1zM842 297h1v1h-1zM687 298h1v1h-1zM774 298h1v1h-1zM842 298h1v1h-1zM688 299h1v1h-1zM773 299h1v1h-1zM843 299h1v1h-1zM689 300h1v1h-1zM772 300h1v1h-1zM844 300h1v1h-1zM690 301h1v1h-1zM772 301h1v1h-1zM845 301h1v1h-1zM690 302h1v1h-1zM771 302h1v1h-1zM846 302h1v1h-1zM691 303h1v1h-1zM770 303h1v1h-1zM847 303h1v1h-1zM692 304h1v1h-1zM769 304h1v1h-1zM847 304h1v1h-1zM693 305h1v1h-1zM768 305h1v1h-1zM848 305h1v1h-1zM694 306h1v1h-1zM768 306h1v1h-1zM848 306h1v1h-1zM695 307h1v1h-1zM767 307h1v1h-1zM849 307h1v1h-1zM695 308h1v1h-1zM765 308h2v1h-2zM850 308h1v1h-1zM696 309h1v1h-1zM762 309h3v1h-3zM850 309h1v1h-1zM696 310h1v1h-1zM760 310h2v1h-2zM851 310h1v1h-1zM697 311h1v1h-1zM758 311h2v1h-2zM852 311h1v1h-1zM697 312h1v1h-1zM757 312h1v1h-1zM852 312h1v1h-1zM698 313h1v1h-1zM756 313h1v1h-1zM853 313h1v1h-1zM698 314h1v1h-1zM754 314h2v1h-2zM853 314h1v1h-1zM699 315h1v1h-1zM753 315h1v1h-1zM854 315h1v1h-1zM699 316h1v1h-1zM752 316h1v1h-1zM854 316h1v1h-1zM700 317h1v1h-1zM751 317h1v1h-1zM855 317h1v1h-1zM700 318h1v1h-1zM750 318h1v1h-1zM856 318h1v1h-1zM701 319h1v1h-1zM749 319h1v1h-1zM856 319h1v1h-1zM701 320h1v1h-1zM748 320h1v1h-1zM856 320h1v1h-1zM702 321h1v1h-1zM748 321h1v1h-1zM857 321h1v1h-1zM703 322h2v1h-2zM747 322h1v1h-1zM858 322h1v1h-1zM705 323h2v1h-2zM746 323h1v1h-1zM858 323h1v1h-1zM707 324h1v1h-1zM745 324h1v1h-1zM858 324h1v1h-1zM708 325h2v1h-2zM744 325h1v1h-1zM859 325h1v1h-1zM710 326h1v1h-1zM744 326h1v1h-1zM860 326h1v1h-1zM711 327h2v1h-2zM743 327h1v1h-1zM860 327h1v1h-1zM713 328h2v1h-2zM742 328h1v1h-1zM860 328h1v1h-1zM715 329h1v1h-1zM740 329h2v1h-2zM861 329h1v1h-1zM716 330h2v1h-2zM739 330h1v1h-1zM862 330h1v1h-1zM718 331h5v1h-5zM737 331h2v1h-2zM862 331h1v1h-1zM723 332h8v1h-8zM735 332h2v1h-2zM863 332h1v1h-1zM731 333h4v1h-4zM863 333h1v1h-1zM864 334h1v1h-1zM865 335h1v1h-1zM866 336h1v1h-1zM866 337h1v1h-1zM867 338h1v1h-1zM868 339h1v1h-1zM869 340h1v1h-1zM869 341h1v1h-1zM870 342h1v1h-1zM871 343h1v1h-1zM872 344h1v1h-1zM873 345h1v1h-1zM874 346h1v1h-1zM875 347h1v1h-1zM876 348h1v1h-1zM877 349h1v1h-1zM878 350h1v1h-1zM879 351h1v1h-1zM880 352h1v1h-1zM881 353h1v1h-1zM882 354h1v1h-1zM882 355h1v1h-1zM883 356h1v1h-1zM884 357h1v1h-1zM885 358h1v1h-1zM886 359h2v1h-2zM917 359h2v1h-2zM888 360h1v1h-1zM914 360h3v1h-3zM889 361h3v1h-3zM912 361h2v1h-2zM892 362h1v1h-1zM899 362h13v1h-13zM893 363h6v1h-6z"/>
<rect x="6" y="117" width="1" height="83" fill="#32cd32"/>
<rect x="4" y="172" width="5" height="1" fill="#32cd32"/>
<rect x="14" y="168" width="1" height="48" fill="#32cd32"/>
<rect x="12" y="173" width="5" height="37" fill="#32cd32"/>
<rect x="22" y="154" width="1" height="59" fill="#ff0000"/>
<rect x="20" y="174" width="5" height="37" fill="#ff0000"/>
<rect x="21" y="175" width="3" height="35" fill="#ff4500"/>
<rect x="30" y="167" width="1" height="25" fill="#32cd32"/>
<rect x="28" y="174" width="5" height="13" fill="#32cd32"/>
<rect x="38" y="169" width="1" height="37" fill="#32cd32"/>
<rect x="36" y="179" width="5" height="2" fill="#32cd32"/>
<rect x="46" y="156" width="1" height="75" fill="#32cd32"/>
<rect x="44" y="180" width="5" height="6" fill="#32cd32"/>
<rect x="54" y="127" width="1" height="59" fill="#ff0000"/>
<rect x="52" y="156" width="5" height="30" fill="#ff0000"/>
<rect x="53" y="157" width="3" height="28" fill="#ff4500"/>
<rect x="62" y="146" width="1" height="16" fill="#ff0000"/>
<rect x="60" y="152" width="5" height="5" fill="#ff0000"/>
<rect x="61" y="153" width="3" height="3" fill="#ff4500"/>
<rect x="70" y="132" width="1" height="37" fill="#32cd32"/>
<rect x="68" y="153" width="5" height="6" fill="#32cd32"/>
<rect x="78" y="131" width="1" height="33" fill="#ff0000"/>
<rect x="76" y="134" width="5" height="25" fill="#ff0000"/>
<rect x="77" y="135" width="3" height="23" fill="#ff4500"/>
<rect x="86" y="115" width="1" height="116" fill="#32cd32"/>
<rect x="84" y="136" width="5" height="87" fill="#32cd32"/>
<rect x="94" y="177" width="1" height="81" fill="#ff0000"/>
<rect x="92" y="190" width="5" height="33" fill="#ff0000"/>
<rect x="93" y="191" width="3" height="31" fill="#ff4500"/>
<rect x="102" y="170" width="1" height="59" fill="#ff0000"/>
<rect x="100" y="177" width="5" height="15" fill="#ff0000"/>
<rect x="101" y="178" width="3" height="13" fill="#ff4500"/>
<rect x="110" y="171" width="1" height="20" fill="#32cd32"/>
<rect x="108" y="176" width="5" height="10" fill="#32cd32"/>
<rect x="118" y="126" width="1" height="56" fill="#ff0000"/>
<rect x="116" y="134" width="5" height="48" fill="#ff0000"/>
<rect x="117" y="135" width="3" height="46" fill="#ff4500"/>
<rect x="126" y="117" width="1" height="51" fill="#32cd32"/>
<rect x="124" y="134" width="5" height="18" fill="#32cd32"/>
<rect x="134" y="95" width="1" height="62" fill="#ff0000"/>
<rect x="132" y="100" width="5" height="53" fill="#ff0000"/>
<rect x="133" y="101" width="3" height="51" fill="#ff4500"/>
<rect x="142" y="95" width="1" height="18" fill="#32cd32"/>
<rect x="140" y="100" width="5" height="12" fill="#32cd32"/>
<rect x="150" y="100" width="1" height="39" fill="#32cd32"/>
<rect x="148" y="108" width="5" height="15" fill="#32cd32"/>
<rect x="158" y="116" width="1" height="19" fill="#32cd32"/>
<rect x="156" y="123" width="5" height="10" fill="#32cd32"/>
<rect x="166" y="119" width="1" height="26" fill="#ff0000"/>
<rect x="164" y="131" width="5" height="3" fill="#ff0000"/>
<rect x="165" y="132" width="3" height="1" fill="#ff4500"/>
<rect x="174" y="115" width="1" height="61" fill="#32cd32"/>
<rect x="172" y="131" width="5" height="23" fill="#32cd32"/>
<rect x="182" y="152" width="1" height="51" fill="#32cd32"/>
<rect x="180" y="153" width="5" height="37" fill="#32cd32"/>
<rect x="190" y="176" width="1" height="33" fill="#32cd32"/>
<rect x="188" y="189" width="5" height="12" fill="#32cd32"/>
<rect x="198" y="177" width="1" height="40" fill="#32cd32"/>
<rect x="196" y="200" width="5" height="12" fill="#32cd32"/>
<rect x="206" y="207" width="1" height="16" fill="#ff0000"/>
<rect x="204" y="209" width="5" height="3" fill="#ff0000"/>
<rect x="205" y="210" width="3" height="1" fill="#ff4500"/>
<rect x="214" y="192" width="1" height="28" fill="#32cd32"/>
<rect x="212" y="212" width="5" height="3" fill="#32cd32"/>
<rect x="222" y="206" width="1" height="31" fill="#32cd32"/>
<rect x="220" y="214" width="5" height="7" fill="#32cd32"/>
<rect x="230" y="193" width="1" height="32" fill="#ff0000"/>
<rect x="228" y="202" width="5" height="18" fill="#ff0000"/>
<rect x="229" y="203" width="3" height="16" fill="#ff4500"/>
<rect x="238" y="189" width="1" height="71" fill="#32cd32"/>
<rect x="236" y="202" width="5" height="21" fill="#32cd32"/>
<rect x="246" y="179" width="1" height="95" fill="#ff0000"/>
<rect x="244" y="187" width="5" height="36" fill="#ff0000"/>
<rect x="245" y="188" width="3" height="34" fill="#ff4500"/>
<rect x="254" y="173" width="1" height="16" fill="#ff0000"/>
<rect x="252" y="174" width="5" height="14" fill="#ff0000"/>
<rect x="253" y="175" width="3" height="12" fill="#ff4500"/>
<rect x="262" y="155" width="1" height="39" fill="#ff0000"/>
<rect x="260" y="157" width="5" height="22" fill="#ff0000"/>
<rect x="261" y="158" width="3" height="20" fill="#ff4500"/>
<rect x="270" y="145" width="1" height="32" fill="#32cd32"/>
<rect x="268" y="157" width="5" height="16" fill="#32cd32"/>
<rect x="278" y="145" width="1" height="36" fill="#ff0000"/>
<rect x="276" y="166" width="5" height="7" fill="#ff0000"/>
<rect x="277" y="167" width="3" height="5" fill="#ff4500"/>
<rect x="286" y="94" width="1" height="80" fill="#ff0000"/>
<rect x="284" y="124" width="5" height="42" fill="#ff0000"/>
<rect x="285" y="125" width="3" height="40" fill="#ff4500"/>
<rect x="294" y="116" width="1" height="42" fill="#32cd32"/>
<rect x="292" y="124" width="5" height="7" fill="#32cd32"/>
<rect x="302" y="114" width="1" height="27" fill="#32cd32"/>
<rect x="300" y="130" width="5" height="8" fill="#32cd32"/>
<rect x="310" y="137" width="1" height="29" fill="#32cd32"/>
<rect x="308" y="142" width="5" height="21" fill="#32cd32"/>
<rect x="318" y="153" width="1" height="29" fill="#32cd32"/>
<rect x="316" y="161" width="5" height="19" fill="#32cd32"/>
<rect x="326" y="171" width="1" height="35" fill="#32cd32"/>
<rect x="324" y="179" width="5" height="25" fill="#32cd32"/>
<rect x="334" y="199" width="1" height="47" fill="#32cd32"/>
<rect x="332" y="203" width="5" height="18" fill="#32cd32"/>
<rect x="342" y="217" width="1" height="30" fill="#32cd32"/>
<rect x="340" y="220" width="5" height="23" fill="#32cd32"/>
<rect x="350" y="238" width="1" height="11" fill="#32cd32"/>
<rect x="348" y="242" width="5" height="5" fill="#32cd32"/>
<rect x="358" y="241" width="1" height="47" fill="#32cd32"/>
<rect x="356" y="250" width="5" height="35" fill="#32cd32"/>
<rect x="366" y="262" width="1" height="38" fill="#ff0000"/>
<rect x="364" y="266" width="5" height="19" fill="#ff0000"/>
<rect x="365" y="267" width="3" height="17" fill="#ff4500"/>
<rect x="374" y="231" width="1" height="50" fill="#32cd32"/>
<rect x="372" y="265" width="5" height="11" fill="#32cd32"/>
<rect x="382" y="257" width="1" height="49" fill="#32cd32"/>
<rect x="380" y="275" width="5" height="10" fill="#32cd32"/>
<rect x="390" y="262" width="1" height="56" fill="#32cd32"/>
<rect x="388" y="283" width="5" height="12" fill="#32cd32"/>
<rect x="398" y="260" width="1" height="37" fill="#ff0000"/>
<rect x="396" y="269" width="5" height="26" fill="#ff0000"/>
<rect x="397" y="270" width="3" height="24" fill="#ff4500"/>
<rect x="406" y="237" width="1" height="37" fill="#ff0000"/>
<rect x="404" y="259" width="5" height="14" fill="#ff0000"/>
<rect x="405" y="260" width="3" height="12" fill="#ff4500"/>
<rect x="414" y="233" width="1" height="52" fill="#ff0000"/>
<rect x="412" y="238" width="5" height="22" fill="#ff0000"/>
<rect x="413" y="239" width="3" height="20" fill="#ff4500"/>
<rect x="422" y="218" width="1" height="30" fill="#ff0000"/>
<rect x="420" y="225" width="5" height="14" fill="#ff0000"/>
<rect x="421" y="226" width="3" height="12" fill="#ff4500"/>
<rect x="430" y="208" width="1" height="41" fill="#32cd32"/>
<rect x="428" y="225" width="5" height="3" fill="#32cd32"/>
<rect x="438" y="220" width="1" height="33" fill="#32cd32"/>
<rect x="436" y="227" width="5" height="7" fill="#32cd32"/>
<rect x="446" y="221" width="1" height="22" fill="#32cd32"/>
<rect x="444" y="233" width="5" height="3" fill="#32cd32"/>
<rect x="454" y="211" width="1" height="27" fill="#ff0000"/>
<rect x="452" y="227" width="5" height="10" fill="#ff0000"/>
<rect x="453" y="228" width="3" height="8" fill="#ff4500"/>
<rect x="462" y="205" width="1" height="31" fill="#ff0000"/>
<rect x="460" y="217" width="5" height="12" fill="#ff0000"/>
<rect x="461" y="218" width="3" height="10" fill="#ff4500"/>
<rect x="470" y="182" width="1" height="40" fill="#ff0000"/>
<rect x="468" y="199" width="5" height="20" fill="#ff0000"/>
<rect x="469" y="200" width="3" height="18" fill="#ff4500"/>
<rect x="478" y="169" width="1" height="49" fill="#ff0000"/>
<rect x="476" y="195" width="5" height="6" fill="#ff0000"/>
<rect x="477" y="196" width="3" height="4" fill="#ff4500"/>
<rect x="486" y="178" width="1" height="45" fill="#32cd32"/>
<rect x="484" y="195" width="5" height="2" fill="#32cd32"/>
<rect x="494" y="194" width="1" height="28" fill="#32cd32"/>
<rect x="492" y="195" width="5" height="24" fill="#32cd32"/>
<rect x="502" y="200" width="1" height="58" fill="#32cd32"/>
<rect x="500" y="202" width="5" height="45" fill="#32cd32"/>
<rect x="510" y="230" width="1" height="42" fill="#32cd32"/>
<rect x="508" y="246" width="5" height="14" fill="#32cd32"/>
<rect x="518" y="246" width="1" height="31" fill="#ff0000"/>
<rect x="516" y="251" width="5" height="9" fill="#ff0000"/>
<rect x="517" y="252" width="3" height="7" fill="#ff4500"/>
<rect x="526" y="245" width="1" height="77" fill="#32cd32"/>
<rect x="524" y="251" width="5" height="69" fill="#32cd32"/>
<rect x="534" y="312" width="1" height="52" fill="#ff0000"/>
<rect x="532" y="316" width="5" height="4" fill="#ff0000"/>
<rect x="533" y="317" width="3" height="2" fill="#ff4500"/>
<rect x="542" y="308" width="1" height="11" fill="#ff0000"/>
<rect x="540" y="311" width="5" height="5" fill="#ff0000"/>
<rect x="541" y="312" width="3" height="3" fill="#ff4500"/>
<rect x="550" y="298" width="1" height="30" fill="#32cd32"/>
<rect x="548" y="317" width="5" height="8" fill="#32cd32"/>
<rect x="558" y="269" width="1" height="59" fill="#ff0000"/>
<rect x="556" y="284" width="5" height="41" fill="#ff0000"/>
<rect x="557" y="285" width="3" height="39" fill="#ff4500"/>
<rect x="566" y="254" width="1" height="33" fill="#ff0000"/>
<rect x="564" y="258" width="5" height="26" fill="#ff0000"/>
<rect x="565" y="259" width="3" height="24" fill="#ff4500"/>
<rect x="574" y="234" width="1" height="36" fill="#32cd32"/>
<rect x="572" y="257" width="5" height="6" fill="#32cd32"/>
<rect x="582" y="229" width="1" height="39" fill="#ff0000"/>
<rect x="580" y="245" width="5" height="18" fill="#ff0000"/>
<rect x="581" y="246" width="3" height="16" fill="#ff4500"/>
<rect x="590" y="242" width="1" height="12" fill="#32cd32"/>
<rect x="588" y="243" width="5" height="7" fill="#32cd32"/>
<rect x="598" y="217" width="1" height="33" fill="#ff0000"/>
<rect x="596" y="235" width="5" height="10" fill="#ff0000"/>
<rect x="597" y="236" width="3" height="8" fill="#ff4500"/>
<rect x="606" y="215" width="1" height="31" fill="#ff0000"/>
<rect x="604" y="227" width="5" height="9" fill="#ff0000"/>
<rect x="605" y="228" width="3" height="7" fill="#ff4500"/>
<rect x="614" y="212" width="1" height="25" fill="#ff0000"/>
<rect x="612" y="223" width="5" height="6" fill="#ff0000"/>
<rect x="613" y="224" width="3" height="4" fill="#ff4500"/>
<rect x="622" y="146" width="1" height="82" fill="#ff0000"/>
<rect x="620" y="216" width="5" height="8" fill="#ff0000"/>
<rect x="621" y="217" width="3" height="6" fill="#ff4500"/>
<rect x="630" y="192" width="1" height="95" fill="#32cd32"/>
<rect x="628" y="216" width="5" height="64" fill="#32cd32"/>
<rect x="638" y="268" width="1" height="12" fill="#ff0000"/>
<rect x="636" y="269" width="5" height="10" fill="#ff0000"/>
<rect x="637" y="270" width="3" height="8" fill="#ff4500"/>
<rect x="646" y="240" width="1" height="34" fill="#ff0000"/>
<rect x="644" y="247" width="5" height="22" fill="#ff0000"/>
<rect x="645" y="248" width="3" height="20" fill="#ff4500"/>
<rect x="654" y="244" width="1" height="39" fill="#32cd32"/>
<rect x="652" y="247" width="5" height="35" fill="#32cd32"/>
<rect x="662" y="269" width="1" height="43" fill="#32cd32"/>
<rect x="660" y="281" width="5" height="24" fill="#32cd32"/>
<rect x="670" y="291" width="1" height="44" fill="#32cd32"/>
<rect x="668" y="304" width="5" height="13" fill="#32cd32"/>
<rect x="678" y="307" width="1" height="31" fill="#32cd32"/>
<rect x="676" y="316" width="5" height="8" fill="#32cd32"/>
<rect x="686" y="320" width="1" height="14" fill="#32cd32"/>
<rect x="684" y="323" width="5" height="11" fill="#32cd32"/>
<rect x="694" y="305" width="1" height="33" fill="#32cd32"/>
<rect x="692" y="327" width="5" height="11" fill="#32cd32"/>
<rect x="702" y="333" width="1" height="26" fill="#32cd32"/>
<rect x="700" y="337" width="5" height="20" fill="#32cd32"/>
<rect x="710" y="301" width="1" height="54" fill="#ff0000"/>
<rect x="708" y="311" width="5" height="44" fill="#ff0000"/>
<rect x="709" y="312" width="3" height="42" fill="#ff4500"/>
<rect x="718" y="305" width="1" height="36" fill="#32cd32"/>
<rect x="716" y="311" width="5" height="22" fill="#32cd32"/>
<rect x="726" y="308" width="1" height="30" fill="#ff0000"/>
<rect x="724" y="331" width="5" height="2" fill="#ff0000"/>
<rect x="734" y="329" width="1" height="8" fill="#ff0000"/>
<rect x="732" y="330" width="5" height="2" fill="#ff0000"/>
<rect x="742" y="285" width="1" height="49" fill="#ff0000"/>
<rect x="740" y="297" width="5" height="34" fill="#ff0000"/>
<rect x="741" y="298" width="3" height="32" fill="#ff4500"/>
<rect x="750" y="277" width="1" height="25" fill="#ff0000"/>
<rect x="748" y="283" width="5" height="13" fill="#ff0000"/>
<rect x="749" y="284" width="3" height="11" fill="#ff4500"/>
<rect x="758" y="275" width="1" height="47" fill="#32cd32"/>
<rect x="756" y="283" width="5" height="10" fill="#32cd32"/>
<rect x="766" y="275" width="1" height="26" fill="#32cd32"/>
<rect x="764" y="292" width="5" height="1" fill="#32cd32"/>
<rect x="774" y="246" width="1" height="60" fill="#ff0000"/>
<rect x="772" y="261" width="5" height="36" fill="#ff0000"/>
<rect x="773" y="262" width="3" height="34" fill="#ff4500"/>
<rect x="782" y="259" width="1" height="11" fill="#32cd32"/>
<rect x="780" y="261" width="5" height="8" fill="#32cd32"/>
<rect x="790" y="248" width="1" height="19" fill="#32cd32"/>
<rect x="788" y="261" width="5" height="2" fill="#32cd32"/>
<rect x="798" y="253" width="1" height="28" fill="#32cd32"/>
<rect x="796" y="261" width="5" height="11" fill="#32cd32"/>
<rect x="806" y="246" width="1" height="36" fill="#ff0000"/>
<rect x="804" y="269" width="5" height="3" fill="#ff0000"/>
<rect x="805" y="270" width="3" height="1" fill="#ff4500"/>
<rect x="814" y="262" width="1" height="55" fill="#32cd32"/>
<rect x="812" y="268" width="5" height="45" fill="#32cd32"/>
<rect x="822" y="312" width="1" height="13" fill="#32cd32"/>
<rect x="820" y="312" width="5" height="10" fill="#32cd32"/>
<rect x="830" y="308" width="1" height="4" fill="#32cd32"/>
<rect x="828" y="308" width="5" height="2" fill="#32cd32"/>
<rect x="838" y="297" width="1" height="20" fill="#ff0000"/>
<rect x="836" y="297" width="5" height="15" fill="#ff0000"/>
<rect x="837" y="298" width="3" height="13" fill="#ff4500"/>
<rect x="846" y="297" width="1" height="56" fill="#32cd32"/>
<rect x="844" y="297" width="5" height="39" fill="#32cd32"/>
<rect x="854" y="322" width="1" height="39" fill="#32cd32"/>
<rect x="852" y="335" width="5" height="20" fill="#32cd32"/>
<rect x="862" y="351" width="1" height="60" fill="#32cd32"/>
<rect x="860" y="351" width="5" height="42" fill="#32cd32"/>
<rect x="870" y="365" width="1" height="52" fill="#ff0000"/>
<rect x="868" y="381" width="5" height="13" fill="#ff0000"/>
<rect x="869" y="382" width="3" height="11" fill="#ff4500"/>
<rect x="878" y="372" width="1" height="13" fill="#ff0000"/>
<rect x="876" y="381" width="5" height="1" fill="#ff0000"/>
<rect x="886" y="368" width="1" height="21" fill="#ff0000"/>
<rect x="884" y="372" width="5" height="13" fill="#ff0000"/>
<rect x="885" y="373" width="3" height="11" fill="#ff4500"/>
<rect x="894" y="322" width="1" height="51" fill="#ff0000"/>
<rect x="892" y="344" width="5" height="29" fill="#ff0000"/>
<rect x="893" y="345" width="3" height="27" fill="#ff4500"/>
<rect x="902" y="305" width="1" height="41" fill="#ff0000"/>
<rect x="900" y="308" width="5" height="37" fill="#ff0000"/>
<rect x="901" y="309" width="3" height="35" fill="#ff4500"/>
<rect x="910" y="299" width="1" height="69" fill="#32cd32"/>
<rect x="908" y="308" width="5" height="50" fill="#32cd32"/>
<rect x="918" y="355" width="1" height="14" fill="#32cd32"/>
<rect x="916" y="355" width="5" height="11" fill="#32cd32"/>
</g>
<rect x="705" y="293" width="294" height="6" fill="#f83232"/>
<rect x="700" y="352" width="297" height="5" fill="#96c80a"/>
<g shape-rendering="crispEdges">
<rect x="5" y="454" width="3" height="5" fill="#c0c0c0"/>
<rect x="13" y="454" width="3" height="5" fill="#c0c0c0"/>
<rect x="21" y="452" width="3" height="7" fill="#c0c0c0"/>
<rect x="29" y="451" width="3" height="8" fill="#c0c0c0"/>
<rect x="37" y="449" width="3" height="10" fill="#c0c0c0"/>
<rect x="45" y="449" width="3" height="10" fill="#c0c0c0"/>
<rect x="53" y="446" width="3" height="13" fill="#c0c0c0"/>
<rect x="61" y="444" width="3" height="15" fill="#c0c0c0"/>
<rect x="69" y="442" width="3" height="17" fill="#c0c0c0"/>
<rect x="77" y="439" width="3" height="20" fill="#c0c0c0"/>
<rect x="85" y="446" width="3" height="13" fill="#c0c0c0"/>
<rect x="93" y="446" width="3" height="13" fill="#c0c0c0"/>
<rect x="101" y="448" width="3" height="11" fill="#c0c0c0"/>
<rect x="109" y="449" width="3" height="10" fill="#c0c0c0"/>
<rect x="117" y="446" width="3" height="13" fill="#c0c0c0"/>
<rect x="125" y="443" width="3" height="16" fill="#c0c0c0"/>
<rect x="133" y="438" width="3" height="21" fill="#c0c0c0"/>
<rect x="141" y="437" width="3" height="22" fill="#c0c0c0"/>
<rect x="149" y="436" width="3" height="23" fill="#c0c0c0"/>
<rect x="157" y="434" width="3" height="25" fill="#c0c0c0"/>
<rect x="165" y="434" width="3" height="25" fill="#c0c0c0"/>
<rect x="173" y="437" width="3" height="22" fill="#c0c0c0"/>
<rect x="181" y="443" width="3" height="16" fill="#c0c0c0"/>
<rect x="189" y="449" width="3" height="10" fill="#c0c0c0"/>
<rect x="197" y="455" width="3" height="4" fill="#c0c0c0"/>
<rect x="205" y="459" width="3" height="1" fill="#c0c0c0"/>
<rect x="213" y="459" width="3" height="5" fill="#c0c0c0"/>
<rect x="221" y="459" width="3" height="8" fill="#c0c0c0"/>
<rect x="229" y="459" width="3" height="9" fill="#c0c0c0"/>
<rect x="237" y="459" width="3" height="11" fill="#c0c0c0"/>
<rect x="245" y="459" width="3" height="10" fill="#c0c0c0"/>
<rect x="253" y="459" width="3" height="7" fill="#c0c0c0"/>
<rect x="261" y="459" width="3" height="4" fill="#c0c0c0"/>
<rect x="269" y="459" width="3" height="3" fill="#c0c0c0"/>
<rect x="277" y="459" width="3" height="1" fill="#c0c0c0"/>
<rect x="285" y="454" width="3" height="5" fill="#c0c0c0"/>
<rect x="293" y="450" width="3" height="9" fill="#c0c0c0"/>
<rect x="301" y="448" width="3" height="11" fill="#c0c0c0"/>
<rect x="309" y="449" width="3" height="10" fill="#c0c0c0"/>
<rect x="317" y="452" width="3" height="7" fill="#c0c0c0"/>
<rect x="325" y="455" width="3" height="4" fill="#c0c0c0"/>
<rect x="333" y="459" width="3" height="3" fill="#c0c0c0"/>
<rect x="341" y="459" width="3" height="9" fill="#c0c0c0"/>
<rect x="349" y="459" width="3" height="13" fill="#c0c0c0"/>
<rect x="357" y="459" width="3" height="21" fill="#c0c0c0"/>
<rect x="365" y="459" width="3" height="25" fill="#c0c0c0"/>
<rect x="373" y="459" width="3" height="28" fill="#c0c0c0"/>
<rect x="381" y="459" width="3" height="31" fill="#c0c0c0"/>
<rect x="389" y="459" width="3" height="34" fill="#c0c0c0"/>
<rect x="397" y="459" width="3" height="34" fill="#c0c0c0"/>
<rect x="405" y="459" width="3" height="33" fill="#c0c0c0"/>
<rect x="413" y="459" width="3" height="29" fill="#c0c0c0"/>
<rect x="421" y="459" width="3" height="25" fill="#c0c0c0"/>
<rect x="429" y="459" width="3" height="21" fill="#c0c0c0"/>
<rect x="437" y="459" width="3" height="19" fill="#c0c0c0"/>
<rect x="445" y="459" width="3" height="17" fill="#c0c0c0"/>
<rect x="453" y="459" width="3" height="15" fill="#c0c0c0"/>
<rect x="461" y="459" width="3" height="12" fill="#c0c0c0"/>
<rect x="469" y="459" width="3" height="8" fill="#c0c0c0"/>
<rect x="477" y="459" width="3" height="3" fill="#c0c0c0"/>
<rect x="485" y="459" width="3" height="1" fill="#c0c0c0"/>
<rect x="493" y="459" width="3" height="1" fill="#c0c0c0"/>
<rect x="501" y="459" width="3" height="3" fill="#c0c0c0"/>
<rect x="509" y="459" width="3" height="6" fill="#c0c0c0"/>
<rect x="517" y="459" width="3" height="8" fill="#c0c0c0"/>
<rect x="525" y="459" width="3" height="15" fill="#c0c0c0"/>
<rect x="533" y="459" width="3" height="21" fill="#c0c0c0"/>
<rect x="541" y="459" width="3" height="25" fill="#c0c0c0"/>
<rect x="549" y="459" width="3" height="28" fill="#c0c0c0"/>
<rect x="557" y="459" width="3" height="27" fill="#c0c0c0"/>
<rect x="565" y="459" width="3" height="24" fill="#c0c0c0"/>
<rect x="573" y="459" width="3" height="21" fill="#c0c0c0"/>
<rect x="581" y="459" width="3" height="17" fill="#c0c0c0"/>
<rect x="589" y="459" width="3" height="13" fill="#c0c0c0"/>
<rect x="597" y="459" width="3" height="10" fill="#c0c0c0"/>
<rect x="605" y="459" width="3" height="5" fill="#c0c0c0"/>
<rect x="613" y="459" width="3" height="3" fill="#c0c0c0"/>
<rect x="621" y="458" width="3" height="1" fill="#c0c0c0"/>
<rect x="629" y="459" width="3" height="3" fill="#c0c0c0"/>
<rect x="637" y="459" width="3" height="5" fill="#c0c0c0"/>
<rect x="645" y="459" width="3" height="4" fill="#c0c0c0"/>
<rect x="653" y="459" width="3" height="5" fill="#c0c0c0"/>
<rect x="661" y="459" width="3" height="10" fill="#c0c0c0"/>
<rect x="669" y="459" width="3" height="13" fill="#c0c0c0"/>
<rect x="677" y="459" width="3" height="18" fill="#c0c0c0"/>
<rect x="685" y="459" width="3" height="21" fill="#c0c0c0"/>
<rect x="693" y="459" width="3" height="25" fill="#c0c0c0"/>
<rect x="701" y="459" width="3" height="29" fill="#c0c0c0"/>
<rect x="709" y="459" width="3" height="27" fill="#c0c0c0"/>
<rect x="717" y="459" width="3" height="28" fill="#c0c0c0"/>
<rect x="725" y="459" width="3" height="28" fill="#c0c0c0"/>
<rect x="733" y="459" width="3" height="27" fill="#c0c0c0"/>
<rect x="741" y="459" width="3" height="23" fill="#c0c0c0"/>
<rect x="749" y="459" width="3" height="19" fill="#c0c0c0"/>
<rect x="757" y="459" width="3" height="16" fill="#c0c0c0"/>
<rect x="765" y="459" width="3" height="13" fill="#c0c0c0"/>
<rect x="773" y="459" width="3" height="9" fill="#c0c0c0"/>
<rect x="781" y="459" width="3" height="6" fill="#c0c0c0"/>
<rect x="789" y="459" width="3" height="1" fill="#c0c0c0"/>
<rect x="797" y="459" width="3" height="1" fill="#c0c0c0"/>
<rect x="805" y="458" width="3" height="1" fill="#c0c0c0"/>
<rect x="813" y="459" width="3" height="1" fill="#c0c0c0"/>
<rect x="821" y="459" width="3" height="5" fill="#c0c0c0"/>
<rect x="829" y="459" width="3" height="5" fill="#c0c0c0"/>
<rect x="837" y="459" width="3" height="6" fill="#c0c0c0"/>
<rect x="845" y="459" width="3" height="9" fill="#c0c0c0"/>
<rect x="853" y="459" width="3" height="13" fill="#c0c0c0"/>
<rect x="861" y="459" width="3" height="20" fill="#c0c0c0"/>
<rect x="869" y="459" width="3" height="24" fill="#c0c0c0"/>
<rect x="877" y="459" width="3" height="27" fill="#c0c0c0"/>
<rect x="885" y="459" width="3" height="28" fill="#c0c0c0"/>
<rect x="893" y="459" width="3" height="26" fill="#c0c0c0"/>
<rect x="901" y="459" width="3" height="20" fill="#c0c0c0"/>
<rect x="909" y="459" width="3" height="20" fill="#c0c0c0"/>
<rect x="917" y="459" width="3" height="21" fill="#c0c0c0"/>
<path fill="#ff0000" d="M179 438h16v1h-16zM171 439h8v1h-8zM195 439h5v1h-5zM155 440h16v1h-16zM200 440h2v1h-2zM147 441h8v1h-8zM202 441h3v1h-3zM139 442h8v1h-8zM205 442h3v1h-3zM131 443h8v1h-8zM208 443h2v1h-2zM123 444h8v1h-8zM210 444h3v1h-3zM115 445h8v1h-8zM213 445h3v1h-3zM84 446h31v1h-31zM216 446h1v1h-1zM81 447h3v1h-3zM217 447h3v1h-3zM76 448h5v1h-5zM220 448h1v1h-1zM73 449h3v1h-3zM221 449h3v1h-3zM67 450h6v1h-6zM224 450h2v1h-2zM60 451h7v1h-7zM226 451h3v1h-3zM57 452h3v1h-3zM229 452h3v1h-3zM53 453h4v1h-4zM232 453h1v1h-1zM50 454h3v1h-3zM233 454h3v1h-3zM48 455h2v1h-2zM236 455h1v1h-1zM44 456h4v1h-4zM237 456h3v1h-3zM323 456h24v1h-24zM41 457h3v1h-3zM240 457h1v1h-1zM315 457h8v1h-8zM347 457h6v1h-6zM36 458h5v1h-5zM241 458h3v1h-3zM308 458h7v1h-7zM353 458h3v1h-3zM33 459h3v1h-3zM244 459h1v1h-1zM305 459h3v1h-3zM356 459h4v1h-4zM28 460h5v1h-5zM245 460h4v1h-4zM300 460h5v1h-5zM360 460h1v1h-1zM25 461h3v1h-3zM249 461h3v1h-3zM297 461h3v1h-3zM361 461h3v1h-3zM20 462h5v1h-5zM252 462h5v1h-5zM292 462h5v1h-5zM364 462h1v1h-1zM843 462h6v1h-6zM17 463h3v1h-3zM257 463h3v1h-3zM289 463h3v1h-3zM365 463h2v1h-2zM827 463h16v1h-16zM849 463h3v1h-3zM11 464h6v1h-6zM260 464h7v1h-7zM283 464h6v1h-6zM367 464h2v1h-2zM515 464h6v1h-6zM659 464h8v1h-8zM819 464h8v1h-8zM852 464h7v1h-7zM6 465h5v1h-5zM267 465h16v1h-16zM369 465h2v1h-2zM508 465h7v1h-7zM521 465h3v1h-3zM651 465h8v1h-8zM667 465h8v1h-8zM813 465h6v1h-6zM859 465h5v1h-5zM371 466h1v1h-1zM505 466h3v1h-3zM524 466h7v1h-7zM644 466h7v1h-7zM675 466h6v1h-6zM810 466h3v1h-3zM864 466h2v1h-2zM372 467h2v1h-2zM501 467h4v1h-4zM531 467h8v1h-8zM641 467h3v1h-3zM681 467h3v1h-3zM808 467h2v1h-2zM866 467h3v1h-3zM374 468h2v1h-2zM498 468h3v1h-3zM539 468h5v1h-5zM636 468h5v1h-5zM684 468h5v1h-5zM805 468h3v1h-3zM869 468h3v1h-3zM376 469h1v1h-1zM496 469h2v1h-2zM544 469h2v1h-2zM633 469h3v1h-3zM689 469h3v1h-3zM802 469h3v1h-3zM872 469h2v1h-2zM377 470h3v1h-3zM492 470h4v1h-4zM546 470h3v1h-3zM628 470h5v1h-5zM692 470h4v1h-4zM800 470h2v1h-2zM874 470h3v1h-3zM380 471h1v1h-1zM489 471h3v1h-3zM549 471h3v1h-3zM625 471h3v1h-3zM696 471h2v1h-2zM797 471h3v1h-3zM877 471h4v1h-4zM381 472h2v1h-2zM485 472h4v1h-4zM552 472h2v1h-2zM621 472h4v1h-4zM698 472h3v1h-3zM794 472h3v1h-3zM881 472h3v1h-3zM383 473h2v1h-2zM482 473h3v1h-3zM554 473h3v1h-3zM618 473h3v1h-3zM701 473h4v1h-4zM792 473h2v1h-2zM884 473h4v1h-4zM385 474h2v1h-2zM480 474h2v1h-2zM557 474h4v1h-4zM616 474h2v1h-2zM705 474h3v1h-3zM789 474h3v1h-3zM888 474h2v1h-2zM387 475h1v1h-1zM477 475h3v1h-3zM561 475h3v1h-3zM613 475h3v1h-3zM708 475h4v1h-4zM786 475h3v1h-3zM890 475h3v1h-3zM388 476h2v1h-2zM474 476h3v1h-3zM564 476h5v1h-5zM610 476h3v1h-3zM712 476h2v1h-2zM784 476h2v1h-2zM893 476h4v1h-4zM390 477h2v1h-2zM472 477h2v1h-2zM569 477h3v1h-3zM608 477h2v1h-2zM714 477h3v1h-3zM781 477h3v1h-3zM897 477h3v1h-3zM392 478h2v1h-2zM469 478h3v1h-3zM572 478h7v1h-7zM603 478h5v1h-5zM717 478h4v1h-4zM778 478h3v1h-3zM900 478h7v1h-7zM394 479h3v1h-3zM466 479h3v1h-3zM579 479h24v1h-24zM721 479h3v1h-3zM776 479h2v1h-2zM907 479h6v1h-6zM397 480h3v1h-3zM464 480h2v1h-2zM724 480h5v1h-5zM771 480h5v1h-5zM913 480h3v1h-3zM400 481h1v1h-1zM460 481h4v1h-4zM729 481h3v1h-3zM764 481h7v1h-7zM916 481h3v1h-3zM401 482h3v1h-3zM457 482h3v1h-3zM732 482h7v1h-7zM761 482h3v1h-3zM404 483h1v1h-1zM452 483h5v1h-5zM739 483h22v1h-22zM405 484h4v1h-4zM449 484h3v1h-3zM409 485h3v1h-3zM443 485h6v1h-6zM412 486h5v1h-5zM435 486h8v1h-8zM417 487h3v1h-3zM427 487h8v1h-8zM420 488h7v1h-7z"/>
<path fill="#1e90ff" d="M140 530h3v1h-3zM137 531h3v1h-3zM143 531h2v1h-2zM77 532h2v1h-2zM133 532h4v1h-4zM145 532h2v1h-2zM286 532h5v1h-5zM76 533h1v1h-1zM79 533h1v1h-1zM132 533h1v1h-1zM147 533h1v1h-1zM285 533h1v1h-1zM291 533h6v1h-6zM53 534h12v1h-12zM73 534h3v1h-3zM79 534h1v1h-1zM118 534h3v1h-3zM129 534h3v1h-3zM148 534h2v1h-2zM283 534h2v1h-2zM297 534h3v1h-3zM475 534h8v1h-8zM619 534h4v1h-4zM52 535h1v1h-1zM65 535h3v1h-3zM72 535h1v1h-1zM80 535h1v1h-1zM117 535h1v1h-1zM121 535h3v1h-3zM128 535h1v1h-1zM150 535h3v1h-3zM282 535h1v1h-1zM300 535h4v1h-4zM469 535h6v1h-6zM483 535h4v1h-4zM611 535h8v1h-8zM623 535h1v1h-1zM774 535h3v1h-3zM6 536h2v1h-2zM21 536h4v1h-4zM49 536h3v1h-3zM68 536h4v1h-4zM81 536h1v1h-1zM115 536h2v1h-2zM124 536h4v1h-4zM153 536h3v1h-3zM163 536h5v1h-5zM261 536h3v1h-3zM280 536h2v1h-2zM304 536h1v1h-1zM468 536h1v1h-1zM487 536h2v1h-2zM603 536h8v1h-8zM623 536h1v1h-1zM773 536h1v1h-1zM777 536h3v1h-3zM787 536h6v1h-6zM8 537h1v1h-1zM20 537h1v1h-1zM25 537h3v1h-3zM35 537h8v1h-8zM48 537h1v1h-1zM81 537h1v1h-1zM114 537h1v1h-1zM156 537h7v1h-7zM168 537h1v1h-1zM258 537h3v1h-3zM264 537h1v1h-1zM279 537h1v1h-1zM305 537h3v1h-3zM465 537h3v1h-3zM489 537h2v1h-2zM597 537h6v1h-6zM624 537h1v1h-1zM772 537h1v1h-1zM780 537h7v1h-7zM793 537h3v1h-3zM803 537h4v1h-4zM9 538h3v1h-3zM17 538h3v1h-3zM28 538h7v1h-7zM43 538h5v1h-5zM82 538h1v1h-1zM112 538h2v1h-2zM169 538h3v1h-3zM256 538h2v1h-2zM265 538h3v1h-3zM276 538h3v1h-3zM308 538h1v1h-1zM464 538h1v1h-1zM491 538h1v1h-1zM594 538h3v1h-3zM625 538h1v1h-1zM770 538h2v1h-2zM796 538h7v1h-7zM807 538h1v1h-1zM902 538h1v1h-1zM12 539h1v1h-1zM16 539h1v1h-1zM83 539h1v1h-1zM99 539h8v1h-8zM111 539h1v1h-1zM172 539h1v1h-1zM253 539h3v1h-3zM268 539h1v1h-1zM273 539h3v1h-3zM309 539h3v1h-3zM461 539h3v1h-3zM492 539h2v1h-2zM581 539h6v1h-6zM592 539h2v1h-2zM625 539h1v1h-1zM769 539h1v1h-1zM808 539h1v1h-1zM901 539h1v1h-1zM903 539h1v1h-1zM13 540h3v1h-3zM83 540h1v1h-1zM93 540h6v1h-6zM107 540h4v1h-4zM173 540h3v1h-3zM250 540h3v1h-3zM269 540h4v1h-4zM312 540h2v1h-2zM458 540h3v1h-3zM494 540h1v1h-1zM578 540h3v1h-3zM587 540h5v1h-5zM626 540h1v1h-1zM645 540h2v1h-2zM748 540h5v1h-5zM768 540h1v1h-1zM809 540h1v1h-1zM900 540h1v1h-1zM904 540h1v1h-1zM84 541h1v1h-1zM92 541h1v1h-1zM176 541h1v1h-1zM248 541h2v1h-2zM314 541h3v1h-3zM456 541h2v1h-2zM495 541h1v1h-1zM576 541h2v1h-2zM627 541h1v1h-1zM644 541h1v1h-1zM647 541h1v1h-1zM745 541h3v1h-3zM753 541h3v1h-3zM767 541h1v1h-1zM810 541h1v1h-1zM898 541h2v1h-2zM905 541h1v1h-1zM85 542h1v1h-1zM89 542h3v1h-3zM177 542h3v1h-3zM246 542h2v1h-2zM317 542h3v1h-3zM419 542h22v1h-22zM452 542h4v1h-4zM496 542h2v1h-2zM565 542h11v1h-11zM627 542h1v1h-1zM641 542h3v1h-3zM648 542h2v1h-2zM742 542h3v1h-3zM756 542h11v1h-11zM810 542h1v1h-1zM836 542h3v1h-3zM897 542h1v1h-1zM906 542h1v1h-1zM85 543h1v1h-1zM88 543h1v1h-1zM180 543h1v1h-1zM245 543h1v1h-1zM320 543h1v1h-1zM413 543h6v1h-6zM441 543h3v1h-3zM449 543h3v1h-3zM498 543h1v1h-1zM564 543h1v1h-1zM628 543h1v1h-1zM640 543h1v1h-1zM650 543h1v1h-1zM741 543h1v1h-1zM811 543h1v1h-1zM833 543h3v1h-3zM839 543h1v1h-1zM896 543h1v1h-1zM907 543h1v1h-1zM86 544h2v1h-2zM181 544h6v1h-6zM229 544h3v1h-3zM243 544h2v1h-2zM321 544h3v1h-3zM412 544h1v1h-1zM444 544h5v1h-5zM499 544h2v1h-2zM561 544h3v1h-3zM629 544h1v1h-1zM636 544h4v1h-4zM651 544h2v1h-2zM739 544h2v1h-2zM812 544h1v1h-1zM829 544h4v1h-4zM840 544h2v1h-2zM895 544h1v1h-1zM908 544h1v1h-1zM187 545h8v1h-8zM228 545h1v1h-1zM232 545h1v1h-1zM242 545h1v1h-1zM324 545h1v1h-1zM409 545h3v1h-3zM501 545h1v1h-1zM560 545h1v1h-1zM629 545h1v1h-1zM633 545h3v1h-3zM653 545h1v1h-1zM738 545h1v1h-1zM813 545h1v1h-1zM828 545h1v1h-1zM842 545h1v1h-1zM894 545h1v1h-1zM909 545h1v1h-1zM195 546h14v1h-14zM225 546h3v1h-3zM233 546h3v1h-3zM240 546h2v1h-2zM325 546h4v1h-4zM408 546h1v1h-1zM502 546h2v1h-2zM517 546h2v1h-2zM558 546h2v1h-2zM630 546h3v1h-3zM654 546h2v1h-2zM710 546h3v1h-3zM736 546h2v1h-2zM814 546h3v1h-3zM825 546h3v1h-3zM843 546h2v1h-2zM893 546h1v1h-1zM910 546h3v1h-3zM209 547h3v1h-3zM224 547h1v1h-1zM236 547h1v1h-1zM239 547h1v1h-1zM329 547h3v1h-3zM404 547h4v1h-4zM504 547h2v1h-2zM514 547h3v1h-3zM519 547h1v1h-1zM557 547h1v1h-1zM656 547h2v1h-2zM709 547h1v1h-1zM713 547h3v1h-3zM735 547h1v1h-1zM817 547h3v1h-3zM824 547h1v1h-1zM845 547h1v1h-1zM892 547h1v1h-1zM913 547h3v1h-3zM212 548h12v1h-12zM237 548h2v1h-2zM332 548h4v1h-4zM401 548h3v1h-3zM506 548h3v1h-3zM512 548h2v1h-2zM520 548h1v1h-1zM557 548h1v1h-1zM658 548h3v1h-3zM708 548h1v1h-1zM716 548h19v1h-19zM820 548h4v1h-4zM846 548h2v1h-2zM890 548h2v1h-2zM916 548h3v1h-3zM336 549h2v1h-2zM398 549h3v1h-3zM509 549h3v1h-3zM520 549h1v1h-1zM556 549h1v1h-1zM661 549h6v1h-6zM708 549h1v1h-1zM848 549h1v1h-1zM889 549h1v1h-1zM338 550h3v1h-3zM397 550h1v1h-1zM521 550h1v1h-1zM555 550h1v1h-1zM667 550h6v1h-6zM707 550h1v1h-1zM849 550h3v1h-3zM888 550h1v1h-1zM341 551h6v1h-6zM396 551h1v1h-1zM522 551h1v1h-1zM554 551h1v1h-1zM673 551h3v1h-3zM706 551h1v1h-1zM852 551h1v1h-1zM887 551h1v1h-1zM347 552h5v1h-5zM365 552h4v1h-4zM394 552h2v1h-2zM523 552h1v1h-1zM554 552h1v1h-1zM676 552h7v1h-7zM705 552h1v1h-1zM853 552h3v1h-3zM884 552h3v1h-3zM352 553h1v1h-1zM364 553h1v1h-1zM369 553h3v1h-3zM393 553h1v1h-1zM524 553h1v1h-1zM553 553h1v1h-1zM683 553h8v1h-8zM704 553h1v1h-1zM856 553h1v1h-1zM881 553h3v1h-3zM353 554h3v1h-3zM361 554h3v1h-3zM372 554h13v1h-13zM392 554h1v1h-1zM524 554h1v1h-1zM539 554h5v1h-5zM552 554h1v1h-1zM691 554h6v1h-6zM704 554h1v1h-1zM857 554h3v1h-3zM868 554h13v1h-13zM356 555h1v1h-1zM360 555h1v1h-1zM385 555h3v1h-3zM391 555h1v1h-1zM525 555h1v1h-1zM531 555h8v1h-8zM544 555h2v1h-2zM551 555h1v1h-1zM697 555h3v1h-3zM703 555h1v1h-1zM860 555h1v1h-1zM865 555h3v1h-3zM357 556h3v1h-3zM388 556h3v1h-3zM526 556h5v1h-5zM546 556h3v1h-3zM551 556h1v1h-1zM700 556h3v1h-3zM861 556h4v1h-4zM549 557h2v1h-2z"/>
</g>
<rect x="1169" y="60" width="2" height="1" fill="#000"/>
<text x="1174.5" y="64" font-size="10.1" fill="#000" font-weight="normal" stroke="#000" stroke-width="0.22" textLength="32.3" lengthAdjust="spacingAndGlyphs">1.15550</text>
<rect x="1169" y="93" width="2" height="1" fill="#000"/>
<text x="1174.5" y="97" font-size="10.1" fill="#000" font-weight="normal" stroke="#000" stroke-width="0.22" textLength="32.3" lengthAdjust="spacingAndGlyphs">1.15140</text>
<rect x="1169" y="126" width="2" height="1" fill="#000"/>
<text x="1174.5" y="130" font-size="10.1" fill="#000" font-weight="normal" stroke="#000" stroke-width="0.22" textLength="32.3" lengthAdjust="spacingAndGlyphs">1.14720</text>
<rect x="1169" y="159" width="2" height="1" fill="#000"/>
<text x="1174.5" y="163" font-size="10.1" fill="#000" font-weight="normal" stroke="#000" stroke-width="0.22" textLength="32.3" lengthAdjust="spacingAndGlyphs">1.14310</text>
<rect x="1169" y="192" width="2" height="1" fill="#000"/>
<text x="1174.5" y="196" font-size="10.1" fill="#000" font-weight="normal" stroke="#000" stroke-width="0.22" textLength="32.3" lengthAdjust="spacingAndGlyphs">1.13900</text>
<rect x="1169" y="225" width="2" height="1" fill="#000"/>
<text x="1174.5" y="229" font-size="10.1" fill="#000" font-weight="normal" stroke="#000" stroke-width="0.22" textLength="32.3" lengthAdjust="spacingAndGlyphs">1.13490</text>
<rect x="1169" y="258" width="2" height="1" fill="#000"/>
<text x="1174.5" y="262" font-size="10.1" fill="#000" font-weight="normal" stroke="#000" stroke-width="0.22" textLength="32.3" lengthAdjust="spacingAndGlyphs">1.13070</text>
<rect x="1169" y="291" width="2" height="1" fill="#000"/>
<text x="1174.5" y="295" font-size="10.1" fill="#000" font-weight="normal" stroke="#000" stroke-width="0.22" textLength="32.3" lengthAdjust="spacingAndGlyphs">1.12660</text>
<rect x="1169" y="324" width="2" height="1" fill="#000"/>
<text x="1174.5" y="328" font-size="10.1" fill="#000" font-weight="normal" stroke="#000" stroke-width="0.22" textLength="32.3" lengthAdjust="spacingAndGlyphs">1.12250</text>
<rect x="1169" y="357" width="2" height="1" fill="#000"/>
<text x="1174.5" y="361" font-size="10.1" fill="#000" font-weight="normal" stroke="#000" stroke-width="0.22" textLength="32.3" lengthAdjust="spacingAndGlyphs">1.11840</text>
<rect x="1169" y="390" width="2" height="1" fill="#000"/>
<text x="1174.5" y="394" font-size="10.1" fill="#000" font-weight="normal" stroke="#000" stroke-width="0.22" textLength="32.3" lengthAdjust="spacingAndGlyphs">1.11420</text>
<rect x="1169" y="423" width="2" height="1" fill="#000"/>
<text x="1174.5" y="427" font-size="10.1" fill="#000" font-weight="normal" stroke="#000" stroke-width="0.22" textLength="32.3" lengthAdjust="spacingAndGlyphs">1.11010</text>
<rect x="1170" y="360" width="41" height="11" fill="#000"/>
<text x="1174.5" y="369" font-size="10.1" fill="#fff" font-weight="normal" stroke="#fff" stroke-width="0.22" textLength="32.5" lengthAdjust="spacingAndGlyphs">1.11735</text>
<rect x="1169" y="430" width="1" height="1" fill="#000"/>
<text x="1172" y="438.9" font-size="10.1" fill="#000" font-weight="normal" stroke="#000" stroke-width="0.22" textLength="37.7" lengthAdjust="spacingAndGlyphs">0.003095</text>
<rect x="1169" y="459" width="2" height="1" fill="#000"/>
<text x="1172.3" y="463" font-size="10.1" fill="#000" font-weight="normal" stroke="#000" stroke-width="0.22" textLength="16.8" lengthAdjust="spacingAndGlyphs">0.00</text>
<rect x="1169" y="494" width="1" height="1" fill="#000"/>
<text x="1172.3" y="493" font-size="10.1" fill="#000" font-weight="normal" stroke="#000" stroke-width="0.22" textLength="40.5" lengthAdjust="spacingAndGlyphs">-0.003947</text>
<text x="1172.3" y="509" font-size="10.1" fill="#000" font-weight="normal" stroke="#000" stroke-width="0.22" textLength="14.4" lengthAdjust="spacingAndGlyphs">100</text>
<rect x="1169" y="524" width="2" height="1" fill="#000"/>
<text x="1172.3" y="528" font-size="10.1" fill="#000" font-weight="normal" stroke="#000" stroke-width="0.22" textLength="9.4" lengthAdjust="spacingAndGlyphs">70</text>
<rect x="1169" y="557" width="2" height="1" fill="#000"/>
<text x="1172.3" y="560.6" font-size="10.1" fill="#000" font-weight="normal" stroke="#000" stroke-width="0.22" textLength="9.4" lengthAdjust="spacingAndGlyphs">30</text>
<text x="1172.3" y="578.6" font-size="10.1" fill="#000" font-weight="normal" stroke="#000" stroke-width="0.22" textLength="4.4" lengthAdjust="spacingAndGlyphs">0</text>
<rect x="6" y="583" width="1" height="3" fill="#000"/>
<text x="5.4" y="594.9" font-size="10.1" fill="#000" font-weight="normal" stroke="#000" stroke-width="0.22" textLength="51.5" lengthAdjust="spacingAndGlyphs">21 Dec 2018</text>
<rect x="70" y="583" width="1" height="3" fill="#000"/>
<text x="69.4" y="594.9" font-size="10.1" fill="#000" font-weight="normal" stroke="#000" stroke-width="0.22" textLength="51.8" lengthAdjust="spacingAndGlyphs">31 Dec 2018</text>
<rect x="134" y="583" width="1" height="3" fill="#000"/>
<text x="133.4" y="594.9" font-size="10.1" fill="#000" font-weight="normal" stroke="#000" stroke-width="0.22" textLength="45" lengthAdjust="spacingAndGlyphs">9 Jan 2019</text>
<rect x="198" y="583" width="1" height="3" fill="#000"/>
<text x="197.4" y="594.9" font-size="10.1" fill="#000" font-weight="normal" stroke="#000" stroke-width="0.22" textLength="49.4" lengthAdjust="spacingAndGlyphs">18 Jan 2019</text>
<rect x="262" y="583" width="1" height="3" fill="#000"/>
<text x="261.4" y="594.9" font-size="10.1" fill="#000" font-weight="normal" stroke="#000" stroke-width="0.22" textLength="49" lengthAdjust="spacingAndGlyphs">28 Jan 2019</text>
<rect x="326" y="583" width="1" height="3" fill="#000"/>
<text x="325.4" y="594.9" font-size="10.1" fill="#000" font-weight="normal" stroke="#000" stroke-width="0.22" textLength="46.7" lengthAdjust="spacingAndGlyphs">6 Feb 2019</text>
<rect x="390" y="583" width="1" height="3" fill="#000"/>
<text x="389.4" y="594.9" font-size="10.1" fill="#000" font-weight="normal" stroke="#000" stroke-width="0.22" textLength="50.7" lengthAdjust="spacingAndGlyphs">15 Feb 2019</text>
<rect x="454" y="583" width="1" height="3" fill="#000"/>
<text x="453.4" y="594.9" font-size="10.1" fill="#000" font-weight="normal" stroke="#000" stroke-width="0.22" textLength="51" lengthAdjust="spacingAndGlyphs">25 Feb 2019</text>
<rect x="518" y="583" width="1" height="3" fill="#000"/>
<text x="517.4" y="594.9" font-size="10.1" fill="#000" font-weight="normal" stroke="#000" stroke-width="0.22" textLength="46.7" lengthAdjust="spacingAndGlyphs">6 Mar 2019</text>
<rect x="582" y="583" width="1" height="3" fill="#000"/>
<text x="581.4" y="594.9" font-size="10.1" fill="#000" font-weight="normal" stroke="#000" stroke-width="0.22" textLength="51.3" lengthAdjust="spacingAndGlyphs">15 Mar 2019</text>
<rect x="646" y="583" width="1" height="3" fill="#000"/>
<text x="645.4" y="594.9" font-size="10.1" fill="#000" font-weight="normal" stroke="#000" stroke-width="0.22" textLength="50.4" lengthAdjust="spacingAndGlyphs">25 Mar 2019</text>
<rect x="710" y="583" width="1" height="3" fill="#000"/>
<text x="709.4" y="594.9" font-size="10.1" fill="#000" font-weight="normal" stroke="#000" stroke-width="0.22" textLength="45" lengthAdjust="spacingAndGlyphs">3 Apr 2019</text>
<rect x="774" y="583" width="1" height="3" fill="#000"/>
<text x="773.4" y="594.9" font-size="10.1" fill="#000" font-weight="normal" stroke="#000" stroke-width="0.22" textLength="50.5" lengthAdjust="spacingAndGlyphs">12 Apr 2019</text>
<rect x="838" y="583" width="1" height="3" fill="#000"/>
<text x="837.4" y="594.9" font-size="10.1" fill="#000" font-weight="normal" stroke="#000" stroke-width="0.22" textLength="50.7" lengthAdjust="spacingAndGlyphs">22 Apr 2019</text>
<rect x="902" y="583" width="1" height="3" fill="#000"/>
<text x="901.4" y="594.9" font-size="10.1" fill="#000" font-weight="normal" stroke="#000" stroke-width="0.22" textLength="49.3" lengthAdjust="spacingAndGlyphs">1 May 2019</text>
<path d="M9,40 L12.5,36 L16,40 Z" fill="#000"/>
<text x="21.5" y="41" font-size="10.1" fill="#000" font-weight="normal" stroke="#000" stroke-width="0.22" textLength="62.5" lengthAdjust="spacingAndGlyphs">EURUSD,Daily</text>
<text x="91.5" y="41" font-size="10.1" fill="#000" font-weight="normal" stroke="#000" stroke-width="0.22" textLength="140.5" lengthAdjust="spacingAndGlyphs">1.11834 1.11835 1.11697 1.11735</text>
<text x="10.5" y="440.8" font-size="10.1" fill="#000" font-weight="normal" stroke="#000" stroke-width="0.22" textLength="153" lengthAdjust="spacingAndGlyphs">MACD(12,26,9) -0.002281 -0.002356</text>
<text x="10.5" y="511" font-size="10.1" fill="#000" font-weight="normal" stroke="#000" stroke-width="0.22" textLength="67.5" lengthAdjust="spacingAndGlyphs">RSI(14) 42.2522</text>
<rect x="9" y="47" width="220" height="68" fill="#ffffff"/>
<rect x="9" y="49" width="52" height="24" fill="url(#gsell)"/>
<rect x="176" y="49" width="52" height="24" fill="url(#gsell)"/>
<rect x="9" y="73" width="109" height="40" fill="url(#gprice)"/>
<rect x="120" y="73" width="108" height="40" fill="url(#gprice)"/>
<rect x="9" y="49" width="1" height="64" fill="#1010a8"/>
<rect x="9" y="49" width="52" height="1" fill="#2020b0"/>
<rect x="176" y="49" width="52" height="1" fill="#2020b0"/>
<rect x="227" y="49" width="1" height="64" fill="#1010a8"/>
<rect x="9" y="112" width="109" height="1" fill="#000090"/>
<rect x="120" y="112" width="108" height="1" fill="#000090"/>
<rect x="117" y="73" width="1" height="40" fill="#000090"/>
<rect x="120" y="73" width="1" height="40" fill="#1010a8"/>
<rect x="118" y="73" width="2" height="40" fill="#ffffff"/>
<rect x="13" y="72" width="44" height="1" fill="#2424a0"/>
<rect x="13" y="73" width="44" height="1" fill="#7878ff"/>
<rect x="180" y="72" width="44" height="1" fill="#2424a0"/>
<rect x="180" y="73" width="44" height="1" fill="#7878ff"/>
<rect x="61" y="49" width="115" height="24" fill="#ffffff"/>
<rect x="63.5" y="49.5" width="111" height="21" fill="#fff" stroke="#a8a8a8"/>
<rect x="65" y="51" width="19" height="19" fill="url(#gbtn)"/>
<rect x="65.5" y="51.5" width="18" height="18" fill="none" stroke="#bdbdbd"/>
<rect x="153" y="51" width="20" height="19" fill="url(#gbtn)"/>
<rect x="153.5" y="51.5" width="19" height="18" fill="none" stroke="#bdbdbd"/>
<rect x="84" y="50" width="1" height="20" fill="#c8c8c8"/>
<path d="M71,58 L77,58 L74,61.5 Z" fill="#4a58a8"/>
<path d="M160,61.5 L166,61.5 L163,58 Z" fill="#4a58a8"/>
<text x="125.3" y="63.9" font-size="12.8" fill="#000" font-weight="normal" textLength="23.6" lengthAdjust="spacingAndGlyphs">5.00</text>
<text x="21.5" y="64.9" font-size="12.5" fill="#fff" font-weight="normal" textLength="25.2" lengthAdjust="spacingAndGlyphs">SELL</text>
<text x="190" y="64.9" font-size="12.5" fill="#fff" font-weight="normal" textLength="23" lengthAdjust="spacingAndGlyphs">BUY</text>
<text x="29.5" y="103.8" font-size="12" fill="#fff" font-weight="bold" textLength="23.3" lengthAdjust="spacingAndGlyphs">1.11</text>
<text x="139.5" y="103.8" font-size="12" fill="#fff" font-weight="bold" textLength="23.3" lengthAdjust="spacingAndGlyphs">1.11</text>
<text x="55.6" y="104.3" font-size="36" fill="#fff" stroke="url(#gprice)" stroke-width="0.7" textLength="36" lengthAdjust="spacingAndGlyphs">73</text>
<text x="166.6" y="104.3" font-size="36" fill="#fff" stroke="url(#gprice)" stroke-width="0.7" textLength="36" lengthAdjust="spacingAndGlyphs">75</text>
<text x="96.6" y="87.8" font-size="11.3" fill="#fff" font-weight="bold" textLength="6.4" lengthAdjust="spacingAndGlyphs">5</text>
<text x="206.8" y="87.8" font-size="11.3" fill="#fff" font-weight="bold" textLength="7.2" lengthAdjust="spacingAndGlyphs">4</text>
<rect x="0" y="604" width="1212" height="1" fill="#ffffff"/>
<rect x="0" y="606" width="1212" height="19" fill="#f0f0f0"/>
<rect x="0" y="605" width="8" height="1" fill="#000"/>
<rect x="110" y="605" width="1102" height="1" fill="#000"/>
<rect x="8" y="604" width="102" height="19" fill="#ffffff"/>
<rect x="7" y="605" width="1" height="19" fill="#000"/>
<rect x="7" y="623" width="104" height="1" fill="#000"/>
<rect x="110" y="605" width="1" height="19" fill="#000"/>
<rect x="1" y="606" width="1" height="18" fill="#a0a0a0"/>
<rect x="2" y="606" width="1" height="18" fill="#696969"/>
<rect x="3" y="606" width="4" height="18" fill="#e4e4e4"/>
<rect x="0" y="625" width="1212" height="1" fill="#f6f6f6"/>
<rect x="0" y="626" width="1212" height="2" fill="#fdfdfd"/>
<rect x="0" y="628" width="1212" height="2" fill="#a0a0a0"/>
<text x="19.5" y="620" font-size="12.4" fill="#000" font-weight="normal" textLength="79.5" lengthAdjust="spacingAndGlyphs">EURUSD,Daily</text>
<text x="122.3" y="620" font-size="12.4" fill="#6d6d6d" font-weight="normal" textLength="81.7" lengthAdjust="spacingAndGlyphs">AUDUSD,Daily</text>
<text x="225.7" y="620" font-size="12.4" fill="#6d6d6d" font-weight="normal" textLength="78.3" lengthAdjust="spacingAndGlyphs">USDCHF,Daily</text>
<text x="326" y="620" font-size="12.4" fill="#6d6d6d" font-weight="normal" textLength="83" lengthAdjust="spacingAndGlyphs">USDCAD,Daily</text>
<text x="429.7" y="620" font-size="12.4" fill="#6d6d6d" font-weight="normal" textLength="82" lengthAdjust="spacingAndGlyphs">USDCNH,Daily</text>
<text x="534" y="620" font-size="12.4" fill="#6d6d6d" font-weight="normal" textLength="69" lengthAdjust="spacingAndGlyphs">XAUUSD,H4</text>
<text x="625.7" y="620" font-size="12.4" fill="#6d6d6d" font-weight="normal" textLength="46" lengthAdjust="spacingAndGlyphs">DJ30,H4</text>
<text x="695.7" y="620" font-size="12.4" fill="#6d6d6d" font-weight="normal" textLength="58.3" lengthAdjust="spacingAndGlyphs">USDOil,H1</text>
<text x="777.3" y="620" font-size="12.4" fill="#6d6d6d" font-weight="normal" textLength="65.7" lengthAdjust="spacingAndGlyphs">USDCHF,H1</text>
<rect x="215" y="609" width="1" height="13" fill="#7a7a7a"/>
<rect x="315" y="609" width="1" height="13" fill="#7a7a7a"/>
<rect x="419" y="609" width="1" height="13" fill="#7a7a7a"/>
<rect x="523" y="609" width="1" height="13" fill="#7a7a7a"/>
<rect x="615" y="609" width="1" height="13" fill="#7a7a7a"/>
<rect x="683" y="609" width="1" height="13" fill="#7a7a7a"/>
<rect x="766" y="609" width="1" height="13" fill="#7a7a7a"/>
<rect x="855" y="609" width="1" height="13" fill="#7a7a7a"/>
<path d="M1183.7,613.8 L1187,610.8 L1187,616.8 Z" fill="#8c8c8c"/>
<path d="M1206.3,613.8 L1203,610.8 L1203,616.8 Z" fill="#8c8c8c"/>
</svg></body></html>
